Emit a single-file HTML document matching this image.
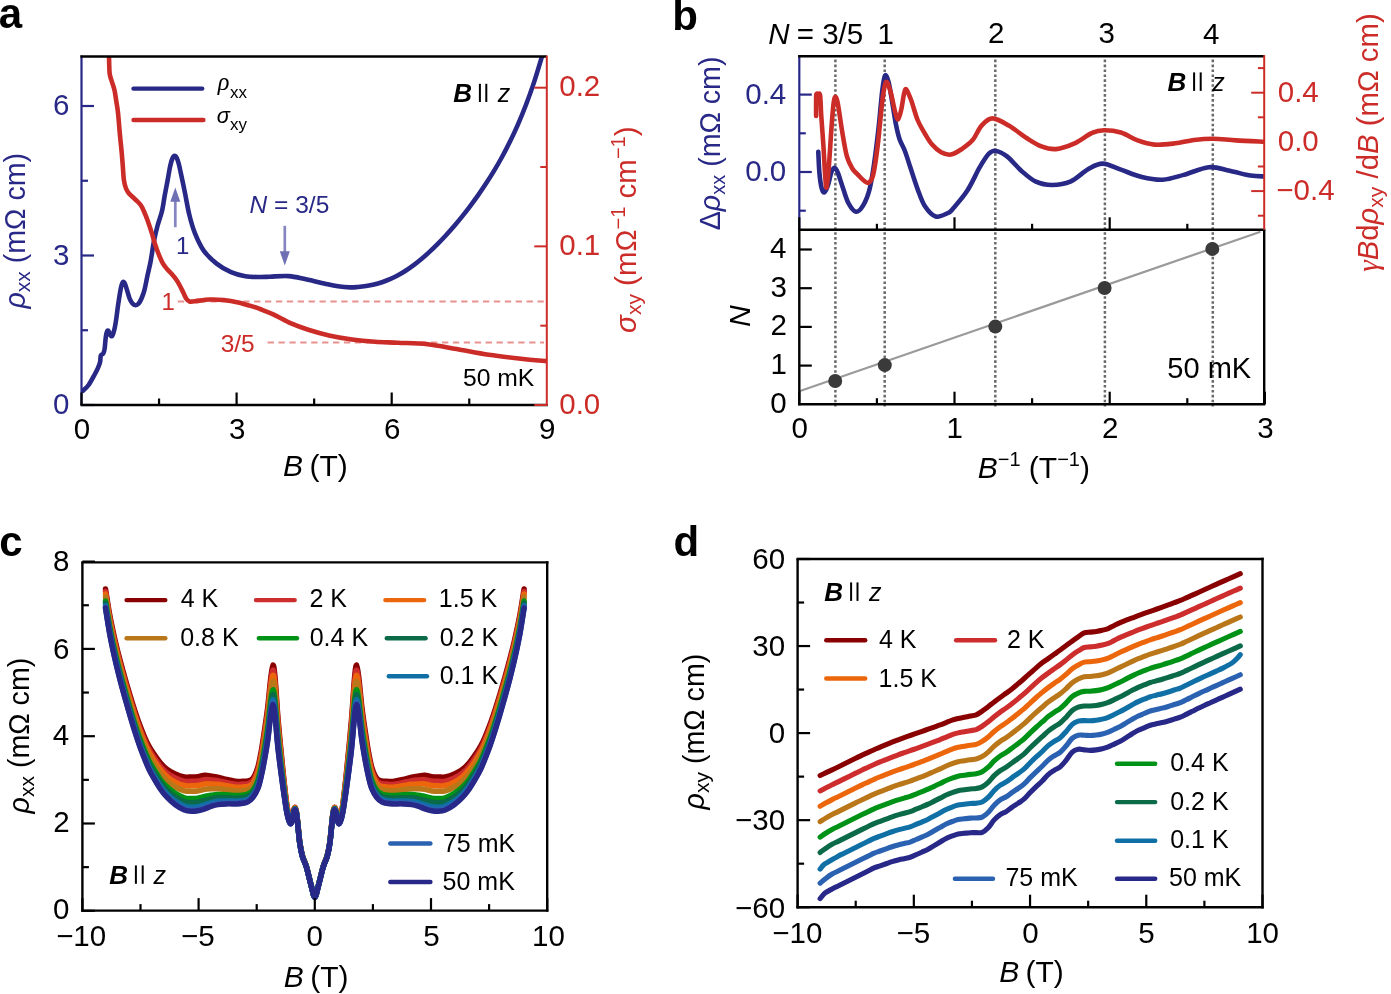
<!DOCTYPE html>
<html><head><meta charset="utf-8"><style>
html,body{margin:0;padding:0;background:#fff;}
svg{display:block;font-family:"Liberation Sans",sans-serif;will-change:transform;}
</style></head><body>
<svg width="1391" height="994" viewBox="0 0 1391 994">
<rect width="1391" height="994" fill="#fff"/>
<text x="-1.23" y="27.70" font-size="42.00" fill="#000" font-weight="bold" font-style="normal" >a</text>
<defs><clipPath id="ca"><rect x="81.5" y="56.5" width="465.3" height="348.5"/></clipPath></defs>
<line x1="177.80" y1="301.50" x2="544.00" y2="301.50" stroke="#e8928f" stroke-width="2.00" stroke-linecap="butt" stroke-dasharray="6.3 4.6"/>
<line x1="267.60" y1="342.60" x2="544.00" y2="342.60" stroke="#e8928f" stroke-width="2.00" stroke-linecap="butt" stroke-dasharray="6.3 4.6"/>
<path d="M82.90,390.80 C83.85,389.83 86.68,387.63 88.60,385.00 C90.52,382.37 92.83,377.87 94.40,375.00 C95.97,372.13 97.05,369.97 98.00,367.80 C98.95,365.63 99.63,364.05 100.10,362.00 C100.57,359.95 100.28,356.90 100.80,355.50 C101.32,354.10 102.57,354.68 103.20,353.60 C103.83,352.52 104.17,351.77 104.60,349.00 C105.03,346.23 105.37,340.00 105.80,337.00 C106.23,334.00 106.70,331.92 107.20,331.00 C107.70,330.08 108.25,330.75 108.80,331.50 C109.35,332.25 109.90,334.83 110.50,335.50 C111.10,336.17 111.72,336.67 112.40,335.50 C113.08,334.33 113.93,331.42 114.60,328.50 C115.27,325.58 115.82,321.92 116.40,318.00 C116.98,314.08 117.33,310.08 118.10,305.00 C118.87,299.92 120.17,291.37 121.00,287.50 C121.83,283.63 122.33,282.13 123.10,281.80 C123.87,281.47 124.52,282.72 125.60,285.50 C126.68,288.28 128.45,295.50 129.60,298.50 C130.75,301.50 131.53,302.38 132.50,303.50 C133.47,304.62 134.40,305.15 135.40,305.20 C136.40,305.25 137.48,304.92 138.50,303.80 C139.52,302.68 140.50,300.83 141.50,298.50 C142.50,296.17 143.48,293.72 144.50,289.80 C145.52,285.88 146.60,279.63 147.60,275.00 C148.60,270.37 149.43,267.67 150.50,262.00 C151.57,256.33 152.82,247.08 154.00,241.00 C155.18,234.92 156.27,230.50 157.60,225.50 C158.93,220.50 160.80,216.08 162.00,211.00 C163.20,205.92 163.88,200.00 164.80,195.00 C165.72,190.00 166.60,185.83 167.50,181.00 C168.40,176.17 169.35,169.83 170.20,166.00 C171.05,162.17 171.87,159.70 172.60,158.00 C173.33,156.30 173.90,155.80 174.60,155.80 C175.30,155.80 176.10,156.63 176.80,158.00 C177.50,159.37 178.17,161.67 178.80,164.00 C179.43,166.33 179.57,167.15 180.60,172.00 C181.63,176.85 183.55,185.98 185.00,193.10 C186.45,200.22 187.63,207.98 189.30,214.70 C190.97,221.42 192.60,227.42 195.00,233.40 C197.40,239.38 200.10,245.57 203.70,250.60 C207.30,255.63 212.05,260.00 216.60,263.60 C221.15,267.20 226.22,270.10 231.00,272.20 C235.78,274.30 240.52,275.40 245.30,276.20 C250.08,277.00 255.58,276.92 259.70,277.00 C263.82,277.08 265.17,276.85 270.00,276.70 C274.83,276.55 282.72,275.67 288.70,276.10 C294.68,276.53 299.43,277.93 305.90,279.30 C312.37,280.67 322.15,283.13 327.50,284.30 C332.85,285.47 334.25,285.78 338.00,286.30 C341.75,286.82 346.67,287.28 350.00,287.40 C353.33,287.52 355.33,287.22 358.00,287.00 C360.67,286.78 363.33,286.50 366.00,286.10 C368.67,285.70 371.33,285.23 374.00,284.60 C376.67,283.97 379.33,283.20 382.00,282.30 C384.67,281.40 387.33,280.37 390.00,279.20 C392.67,278.03 395.33,276.75 398.00,275.30 C400.67,273.85 403.33,272.23 406.00,270.50 C408.67,268.77 411.33,266.90 414.00,264.90 C416.67,262.90 419.33,260.75 422.00,258.50 C424.67,256.25 427.33,253.88 430.00,251.40 C432.67,248.92 435.33,246.30 438.00,243.60 C440.67,240.90 443.33,238.10 446.00,235.20 C448.67,232.30 451.33,229.30 454.00,226.20 C456.67,223.10 459.33,219.92 462.00,216.60 C464.67,213.28 467.33,209.83 470.00,206.30 C472.67,202.77 475.33,199.18 478.00,195.40 C480.67,191.62 483.33,187.68 486.00,183.60 C488.67,179.52 491.33,175.33 494.00,170.90 C496.67,166.47 499.33,161.88 502.00,157.00 C504.67,152.12 507.33,147.03 510.00,141.60 C512.67,136.17 515.33,130.53 518.00,124.40 C520.67,118.27 523.33,111.80 526.00,104.80 C528.67,97.80 531.33,90.47 534.00,82.40 C536.67,74.33 540.47,61.47 542.00,56.40 C543.53,51.33 543.00,52.73 543.20,52.00" fill="none" stroke="#282887" stroke-width="4.60" stroke-linejoin="round" stroke-linecap="round" clip-path="url(#ca)"/>
<path d="M108.40,52.00 C108.50,52.87 108.80,53.70 109.00,57.20 C109.20,60.70 109.20,69.17 109.60,73.00 C110.00,76.83 110.60,77.40 111.40,80.20 C112.20,83.00 113.60,86.38 114.40,89.80 C115.20,93.22 115.60,96.87 116.20,100.70 C116.80,104.53 117.38,107.17 118.00,112.80 C118.62,118.43 119.28,127.87 119.90,134.50 C120.52,141.13 121.22,147.35 121.70,152.60 C122.18,157.85 122.43,161.43 122.80,166.00 C123.17,170.57 123.37,176.25 123.90,180.00 C124.43,183.75 125.15,186.25 126.00,188.50 C126.85,190.75 127.80,192.00 129.00,193.50 C130.20,195.00 131.78,196.17 133.20,197.50 C134.62,198.83 136.20,200.17 137.50,201.50 C138.80,202.83 139.95,203.92 141.00,205.50 C142.05,207.08 142.70,208.50 143.80,211.00 C144.90,213.50 146.25,216.77 147.60,220.50 C148.95,224.23 150.70,229.57 151.90,233.40 C153.10,237.23 153.72,240.15 154.80,243.50 C155.88,246.85 157.08,250.22 158.40,253.50 C159.72,256.78 161.27,260.62 162.70,263.20 C164.13,265.78 165.45,267.15 167.00,269.00 C168.55,270.85 170.50,272.58 172.00,274.30 C173.50,276.02 174.75,277.52 176.00,279.30 C177.25,281.08 178.25,282.72 179.50,285.00 C180.75,287.28 182.33,290.67 183.50,293.00 C184.67,295.33 185.50,297.58 186.50,299.00 C187.50,300.42 188.08,301.13 189.50,301.50 C190.92,301.87 191.68,301.53 195.00,301.20 C198.32,300.87 204.60,299.70 209.40,299.50 C214.20,299.30 219.00,299.52 223.80,300.00 C228.60,300.48 233.42,301.33 238.20,302.40 C242.98,303.47 248.87,305.30 252.50,306.40 C256.13,307.50 256.45,307.63 260.00,309.00 C263.55,310.37 268.62,312.20 273.80,314.60 C278.98,317.00 285.35,320.88 291.10,323.40 C296.85,325.92 301.98,327.70 308.30,329.70 C314.62,331.70 321.72,333.77 329.00,335.40 C336.28,337.03 344.33,338.43 352.00,339.50 C359.67,340.57 367.33,341.27 375.00,341.80 C382.67,342.33 389.23,342.30 398.00,342.70 C406.77,343.10 417.83,343.15 427.60,344.20 C437.37,345.25 446.40,347.25 456.60,349.00 C466.80,350.75 478.07,353.08 488.80,354.70 C499.53,356.32 511.33,357.63 521.00,358.70 C530.67,359.77 542.50,360.70 546.80,361.10" fill="none" stroke="#cc2c28" stroke-width="4.60" stroke-linejoin="round" stroke-linecap="round" clip-path="url(#ca)"/>
<line x1="175.30" y1="227.20" x2="175.30" y2="200.00" stroke="#8585c2" stroke-width="2.70" stroke-linecap="butt" />
<path d="M170.3,201.8 L175.3,187.4 L180.3,201.8 Z" fill="#6f6fb4"/>
<line x1="284.80" y1="225.80" x2="284.80" y2="252.00" stroke="#8585c2" stroke-width="2.70" stroke-linecap="butt" />
<path d="M279.8,251.2 L284.8,265.6 L289.8,251.2 Z" fill="#6f6fb4"/>
<line x1="81.50" y1="55.40" x2="81.50" y2="405.00" stroke="#282887" stroke-width="2.20" stroke-linecap="butt" />
<line x1="81.50" y1="405.00" x2="94.00" y2="405.00" stroke="#282887" stroke-width="2.20" stroke-linecap="butt" />
<line x1="81.50" y1="255.50" x2="94.00" y2="255.50" stroke="#282887" stroke-width="2.20" stroke-linecap="butt" />
<line x1="81.50" y1="106.00" x2="94.00" y2="106.00" stroke="#282887" stroke-width="2.20" stroke-linecap="butt" />
<line x1="81.50" y1="330.25" x2="88.00" y2="330.25" stroke="#282887" stroke-width="2.20" stroke-linecap="butt" />
<line x1="81.50" y1="180.75" x2="88.00" y2="180.75" stroke="#282887" stroke-width="2.20" stroke-linecap="butt" />
<line x1="80.40" y1="56.50" x2="546.80" y2="56.50" stroke="#000" stroke-width="2.40" stroke-linecap="butt" />
<line x1="80.40" y1="405.00" x2="547.80" y2="405.00" stroke="#000" stroke-width="2.40" stroke-linecap="butt" />
<line x1="81.50" y1="405.00" x2="81.50" y2="392.50" stroke="#000" stroke-width="2.20" stroke-linecap="butt" />
<line x1="236.60" y1="405.00" x2="236.60" y2="392.50" stroke="#000" stroke-width="2.20" stroke-linecap="butt" />
<line x1="391.70" y1="405.00" x2="391.70" y2="392.50" stroke="#000" stroke-width="2.20" stroke-linecap="butt" />
<line x1="159.05" y1="405.00" x2="159.05" y2="398.50" stroke="#000" stroke-width="2.20" stroke-linecap="butt" />
<line x1="314.15" y1="405.00" x2="314.15" y2="398.50" stroke="#000" stroke-width="2.20" stroke-linecap="butt" />
<line x1="469.25" y1="405.00" x2="469.25" y2="398.50" stroke="#000" stroke-width="2.20" stroke-linecap="butt" />
<line x1="546.80" y1="55.40" x2="546.80" y2="406.10" stroke="#cc2c28" stroke-width="2.00" stroke-linecap="butt" />
<line x1="546.80" y1="405.00" x2="534.30" y2="405.00" stroke="#cc2c28" stroke-width="2.00" stroke-linecap="butt" />
<line x1="546.80" y1="246.35" x2="534.30" y2="246.35" stroke="#cc2c28" stroke-width="2.00" stroke-linecap="butt" />
<line x1="546.80" y1="87.70" x2="534.30" y2="87.70" stroke="#cc2c28" stroke-width="2.00" stroke-linecap="butt" />
<line x1="546.80" y1="325.68" x2="540.30" y2="325.68" stroke="#cc2c28" stroke-width="2.00" stroke-linecap="butt" />
<line x1="546.80" y1="167.03" x2="540.30" y2="167.03" stroke="#cc2c28" stroke-width="2.00" stroke-linecap="butt" />
<text x="52.95" y="414.30" font-size="29.50" fill="#282887" font-weight="normal" font-style="normal" >0</text>
<text x="53.09" y="264.80" font-size="29.50" fill="#282887" font-weight="normal" font-style="normal" >3</text>
<text x="53.09" y="115.30" font-size="29.50" fill="#282887" font-weight="normal" font-style="normal" >6</text>
<text x="559.25" y="413.70" font-size="29.50" fill="#cc2c28" font-weight="normal" font-style="normal" >0.0</text>
<text x="559.25" y="255.05" font-size="29.50" fill="#cc2c28" font-weight="normal" font-style="normal" >0.1</text>
<text x="559.25" y="96.40" font-size="29.50" fill="#cc2c28" font-weight="normal" font-style="normal" >0.2</text>
<text x="73.80" y="439.20" font-size="29.50" fill="#000" font-weight="normal" font-style="normal" >0</text>
<text x="228.98" y="439.20" font-size="29.50" fill="#000" font-weight="normal" font-style="normal" >3</text>
<text x="383.90" y="439.20" font-size="29.50" fill="#000" font-weight="normal" font-style="normal" >6</text>
<text x="539.10" y="439.20" font-size="29.50" fill="#000" font-weight="normal" font-style="normal" >9</text>
<text x="283.10" y="475.90" font-size="30.00" fill="#000" ><tspan font-style="italic">B</tspan><tspan dx="-2"> (T)</tspan></text>
<text transform="translate(24.5,308.6) rotate(-90)" font-size="28.6" fill="#282887"><tspan font-style="italic">ρ</tspan><tspan font-size="21" dy="5">xx</tspan><tspan dy="-5"> (mΩ cm)</tspan></text>
<text transform="translate(636.2,332.9) rotate(-90)" font-size="29.5" fill="#cc2c28"><tspan font-style="italic">σ</tspan><tspan font-size="21" dy="5">xy</tspan><tspan dy="-5"> (mΩ</tspan><tspan font-size="20" dy="-11">−1</tspan><tspan dy="11"> cm</tspan><tspan font-size="20" dy="-11">−1</tspan><tspan dy="11">)</tspan></text>
<line x1="133.50" y1="88.60" x2="202.20" y2="88.60" stroke="#282887" stroke-width="4.40" stroke-linecap="round" />
<line x1="133.50" y1="120.00" x2="203.40" y2="120.00" stroke="#cc2c28" stroke-width="4.40" stroke-linecap="round" />
<text x="217.72" y="90.40" font-size="24.30" fill="#000" ><tspan font-family="Liberation Serif" font-style="italic">ρ</tspan></text>
<text x="230.10" y="98.30" font-size="17.00" fill="#000" >xx</text>
<text x="216.80" y="122.60" font-size="21.70" fill="#000" ><tspan font-style="italic">σ</tspan></text>
<text x="230.10" y="130.40" font-size="17.00" fill="#000" >xy</text>
<text x="175.97" y="254.20" font-size="24.00" fill="#282887" font-weight="normal" font-style="normal" >1</text>
<text x="249.60" y="212.80" font-size="24.50" fill="#282887" ><tspan font-style="italic">N</tspan> = 3/5</text>
<text x="161.57" y="310.30" font-size="24.00" fill="#cc2c28" font-weight="normal" font-style="normal" >1</text>
<text x="220.67" y="352.00" font-size="24.50" fill="#cc2c28" font-weight="normal" font-style="normal" >3/5</text>
<text x="462.91" y="386.10" font-size="24.70" fill="#000" font-weight="normal" font-style="normal" >50 mK</text>
<text x="453.14" y="102.00" font-size="26.00" fill="#000" font-weight="bold" font-style="italic" >B</text>
<line x1="479.90" y1="83.80" x2="479.90" y2="102.00" stroke="#000" stroke-width="2.00" stroke-linecap="butt" />
<line x1="486.30" y1="83.80" x2="486.30" y2="102.00" stroke="#000" stroke-width="2.00" stroke-linecap="butt" />
<text x="497.75" y="102.00" font-size="25.00" fill="#000" font-weight="normal" font-style="italic" >z</text>
<text x="672.23" y="29.50" font-size="42.00" fill="#000" font-weight="bold" font-style="normal" >b</text>
<defs><clipPath id="cb"><rect x="799.3" y="56.2" width="464.9" height="173.6"/></clipPath></defs>
<line x1="835.40" y1="58.50" x2="835.40" y2="406.50" stroke="#6a6a6a" stroke-width="2.50" stroke-linecap="butt" stroke-dasharray="2.6 2.33" stroke-dashoffset="-1.1"/>
<line x1="884.70" y1="58.50" x2="884.70" y2="406.50" stroke="#6a6a6a" stroke-width="2.50" stroke-linecap="butt" stroke-dasharray="2.6 2.33" stroke-dashoffset="-1.1"/>
<line x1="995.30" y1="58.50" x2="995.30" y2="406.50" stroke="#6a6a6a" stroke-width="2.50" stroke-linecap="butt" stroke-dasharray="2.6 2.33" stroke-dashoffset="-1.1"/>
<line x1="1104.90" y1="58.50" x2="1104.90" y2="406.50" stroke="#6a6a6a" stroke-width="2.50" stroke-linecap="butt" stroke-dasharray="2.6 2.33" stroke-dashoffset="-1.1"/>
<line x1="1212.80" y1="58.50" x2="1212.80" y2="406.50" stroke="#6a6a6a" stroke-width="2.50" stroke-linecap="butt" stroke-dasharray="2.6 2.33" stroke-dashoffset="-1.1"/>
<path d="M818.30,151.90 C818.48,155.38 818.85,166.78 819.40,172.80 C819.95,178.82 820.78,184.75 821.60,188.00 C822.42,191.25 823.25,192.73 824.30,192.30 C825.35,191.87 826.70,188.78 827.90,185.40 C829.10,182.02 830.38,174.93 831.50,172.00 C832.62,169.07 833.53,167.67 834.60,167.80 C835.67,167.93 836.45,169.25 837.90,172.80 C839.35,176.35 841.50,183.97 843.30,189.10 C845.10,194.23 846.58,199.83 848.70,203.60 C850.82,207.37 853.58,211.40 856.00,211.70 C858.42,212.00 860.93,209.17 863.20,205.40 C865.47,201.63 867.78,196.05 869.60,189.10 C871.42,182.15 872.60,173.97 874.10,163.70 C875.60,153.43 877.25,139.58 878.60,127.50 C879.95,115.42 881.13,99.87 882.20,91.20 C883.27,82.53 883.93,77.00 885.00,75.50 C886.07,74.00 887.40,77.77 888.60,82.20 C889.80,86.63 891.00,95.17 892.20,102.10 C893.40,109.03 894.58,117.65 895.80,123.80 C897.02,129.95 897.98,134.47 899.50,139.00 C901.02,143.53 903.10,146.28 904.90,151.00 C906.70,155.72 908.18,160.95 910.30,167.30 C912.42,173.65 915.18,182.65 917.60,189.10 C920.02,195.55 921.78,201.43 924.80,206.00 C927.82,210.57 931.83,215.33 935.70,216.50 C939.57,217.67 945.17,214.27 948.00,213.00 C950.83,211.73 949.50,212.60 952.70,208.90 C955.90,205.20 962.68,197.75 967.20,190.80 C971.72,183.85 976.18,173.38 979.80,167.20 C983.42,161.02 986.18,156.42 988.90,153.70 C991.62,150.98 993.08,150.45 996.10,150.90 C999.12,151.35 1002.77,153.07 1007.00,156.40 C1011.23,159.73 1016.68,166.68 1021.50,170.90 C1026.32,175.12 1030.78,179.35 1035.90,181.70 C1041.02,184.05 1046.47,185.00 1052.20,185.00 C1057.93,185.00 1064.27,184.37 1070.30,181.70 C1076.33,179.03 1082.97,172.02 1088.40,169.00 C1093.83,165.98 1097.48,163.48 1102.90,163.60 C1108.32,163.72 1114.42,167.47 1120.90,169.70 C1127.38,171.93 1134.82,175.33 1141.80,177.00 C1148.78,178.67 1155.82,180.05 1162.80,179.70 C1169.78,179.35 1176.03,176.98 1183.70,174.90 C1191.37,172.82 1201.13,167.88 1208.80,167.20 C1216.47,166.52 1222.73,169.40 1229.70,170.80 C1236.67,172.20 1244.85,174.67 1250.60,175.60 C1256.35,176.53 1261.93,176.27 1264.20,176.40" fill="none" stroke="#282887" stroke-width="4.60" stroke-linejoin="round" stroke-linecap="round" clip-path="url(#cb)"/>
<path d="M816.10,116.00 C816.10,114.00 816.07,107.58 816.10,104.00 C816.13,100.42 815.98,96.20 816.30,94.50 C816.62,92.80 817.40,93.80 818.00,93.80 C818.60,93.80 819.47,93.13 819.90,94.50 C820.33,95.87 820.38,98.62 820.60,102.00 C820.82,105.38 820.73,107.53 821.20,114.80 C821.67,122.07 822.73,135.40 823.40,145.60 C824.07,155.80 824.67,169.02 825.20,176.00 C825.73,182.98 826.00,188.95 826.60,187.50 C827.20,186.05 827.98,177.30 828.80,167.30 C829.62,157.30 830.72,138.05 831.50,127.50 C832.28,116.95 832.90,109.08 833.50,104.00 C834.10,98.92 834.52,97.67 835.10,97.00 C835.68,96.33 836.38,97.95 837.00,100.00 C837.62,102.05 837.90,103.82 838.80,109.30 C839.70,114.78 841.05,125.05 842.40,132.90 C843.75,140.75 845.25,150.47 846.90,156.40 C848.55,162.33 850.48,165.47 852.30,168.50 C854.12,171.53 855.98,172.68 857.80,174.60 C859.62,176.52 861.38,178.65 863.20,180.00 C865.02,181.35 867.03,183.60 868.70,182.70 C870.37,181.80 871.70,180.78 873.20,174.60 C874.70,168.42 876.20,157.68 877.70,145.60 C879.20,133.52 880.83,112.67 882.20,102.10 C883.57,91.53 884.53,84.02 885.90,82.20 C887.27,80.38 888.90,86.40 890.40,91.20 C891.90,96.00 893.63,106.28 894.90,111.00 C896.17,115.72 896.93,119.78 898.00,119.50 C899.07,119.22 900.30,113.55 901.30,109.30 C902.30,105.05 903.17,97.32 904.00,94.00 C904.83,90.68 905.10,88.35 906.30,89.40 C907.50,90.45 909.32,95.20 911.20,100.30 C913.08,105.40 915.33,114.47 917.60,120.00 C919.87,125.53 922.38,129.40 924.80,133.50 C927.22,137.60 929.38,141.47 932.10,144.60 C934.82,147.73 937.97,150.63 941.10,152.30 C944.23,153.97 947.47,155.13 950.90,154.60 C954.33,154.07 958.08,151.52 961.70,149.10 C965.32,146.68 969.28,144.02 972.60,140.10 C975.92,136.18 978.28,129.22 981.60,125.60 C984.92,121.98 987.97,118.40 992.50,118.40 C997.03,118.40 1003.07,122.28 1008.80,125.60 C1014.53,128.92 1021.47,134.83 1026.90,138.30 C1032.33,141.77 1036.57,144.60 1041.40,146.40 C1046.23,148.20 1050.47,149.55 1055.90,149.10 C1061.33,148.65 1067.97,146.42 1074.00,143.70 C1080.03,140.98 1087.10,135.05 1092.10,132.80 C1097.10,130.55 1099.20,130.25 1104.00,130.20 C1108.80,130.15 1115.28,130.80 1120.90,132.50 C1126.52,134.20 1132.12,138.38 1137.70,140.40 C1143.28,142.42 1148.48,144.07 1154.40,144.60 C1160.32,145.13 1166.58,144.37 1173.20,143.60 C1179.82,142.83 1187.47,140.82 1194.10,140.00 C1200.73,139.18 1206.02,138.63 1213.00,138.70 C1219.98,138.77 1227.47,139.88 1236.00,140.40 C1244.53,140.92 1259.50,141.57 1264.20,141.80" fill="none" stroke="#cc2c28" stroke-width="4.60" stroke-linejoin="round" stroke-linecap="round" clip-path="url(#cb)"/>
<line x1="799.30" y1="391.20" x2="1260.50" y2="231.72" stroke="#9a9a9a" stroke-width="2.20" stroke-linecap="butt" />
<circle cx="835.2" cy="381.0" r="7" fill="#3a3a3a"/>
<circle cx="884.8" cy="365.1" r="7" fill="#3a3a3a"/>
<circle cx="995.3" cy="326.6" r="7" fill="#3a3a3a"/>
<circle cx="1104.6" cy="288.0" r="7" fill="#3a3a3a"/>
<circle cx="1212.3" cy="248.9" r="7" fill="#3a3a3a"/>
<line x1="799.30" y1="55.10" x2="799.30" y2="229.80" stroke="#282887" stroke-width="2.20" stroke-linecap="butt" />
<line x1="799.30" y1="229.80" x2="799.30" y2="405.30" stroke="#000" stroke-width="2.40" stroke-linecap="butt" />
<line x1="798.20" y1="56.20" x2="1264.20" y2="56.20" stroke="#000" stroke-width="2.40" stroke-linecap="butt" />
<line x1="798.20" y1="229.80" x2="1265.30" y2="229.80" stroke="#000" stroke-width="2.40" stroke-linecap="butt" />
<line x1="798.20" y1="404.20" x2="1265.30" y2="404.20" stroke="#000" stroke-width="2.40" stroke-linecap="butt" />
<line x1="1264.20" y1="229.80" x2="1264.20" y2="404.20" stroke="#000" stroke-width="2.40" stroke-linecap="butt" />
<line x1="799.30" y1="94.60" x2="811.80" y2="94.60" stroke="#282887" stroke-width="2.20" stroke-linecap="butt" />
<line x1="799.30" y1="172.00" x2="811.80" y2="172.00" stroke="#282887" stroke-width="2.20" stroke-linecap="butt" />
<line x1="799.30" y1="133.30" x2="805.80" y2="133.30" stroke="#282887" stroke-width="2.20" stroke-linecap="butt" />
<line x1="799.30" y1="210.70" x2="805.80" y2="210.70" stroke="#282887" stroke-width="2.20" stroke-linecap="butt" />
<line x1="799.30" y1="229.80" x2="799.30" y2="217.30" stroke="#000" stroke-width="2.20" stroke-linecap="butt" />
<line x1="799.30" y1="404.20" x2="799.30" y2="391.70" stroke="#000" stroke-width="2.20" stroke-linecap="butt" />
<line x1="954.50" y1="229.80" x2="954.50" y2="217.30" stroke="#000" stroke-width="2.20" stroke-linecap="butt" />
<line x1="954.50" y1="404.20" x2="954.50" y2="391.70" stroke="#000" stroke-width="2.20" stroke-linecap="butt" />
<line x1="1109.70" y1="229.80" x2="1109.70" y2="217.30" stroke="#000" stroke-width="2.20" stroke-linecap="butt" />
<line x1="1109.70" y1="404.20" x2="1109.70" y2="391.70" stroke="#000" stroke-width="2.20" stroke-linecap="butt" />
<line x1="1264.90" y1="404.20" x2="1264.90" y2="391.70" stroke="#000" stroke-width="2.20" stroke-linecap="butt" />
<line x1="876.90" y1="229.80" x2="876.90" y2="223.80" stroke="#000" stroke-width="2.20" stroke-linecap="butt" />
<line x1="876.90" y1="404.20" x2="876.90" y2="398.20" stroke="#000" stroke-width="2.20" stroke-linecap="butt" />
<line x1="1032.10" y1="229.80" x2="1032.10" y2="223.80" stroke="#000" stroke-width="2.20" stroke-linecap="butt" />
<line x1="1032.10" y1="404.20" x2="1032.10" y2="398.20" stroke="#000" stroke-width="2.20" stroke-linecap="butt" />
<line x1="1187.30" y1="229.80" x2="1187.30" y2="223.80" stroke="#000" stroke-width="2.20" stroke-linecap="butt" />
<line x1="1187.30" y1="404.20" x2="1187.30" y2="398.20" stroke="#000" stroke-width="2.20" stroke-linecap="butt" />
<line x1="799.30" y1="365.60" x2="811.80" y2="365.60" stroke="#000" stroke-width="2.20" stroke-linecap="butt" />
<line x1="799.30" y1="326.90" x2="811.80" y2="326.90" stroke="#000" stroke-width="2.20" stroke-linecap="butt" />
<line x1="799.30" y1="288.20" x2="811.80" y2="288.20" stroke="#000" stroke-width="2.20" stroke-linecap="butt" />
<line x1="799.30" y1="249.50" x2="811.80" y2="249.50" stroke="#000" stroke-width="2.20" stroke-linecap="butt" />
<line x1="1264.20" y1="55.10" x2="1264.20" y2="229.80" stroke="#cc2c28" stroke-width="2.00" stroke-linecap="butt" />
<line x1="1264.20" y1="92.70" x2="1251.20" y2="92.70" stroke="#cc2c28" stroke-width="2.00" stroke-linecap="butt" />
<line x1="1264.20" y1="141.90" x2="1251.20" y2="141.90" stroke="#cc2c28" stroke-width="2.00" stroke-linecap="butt" />
<line x1="1264.20" y1="191.10" x2="1251.20" y2="191.10" stroke="#cc2c28" stroke-width="2.00" stroke-linecap="butt" />
<line x1="1264.20" y1="68.10" x2="1257.90" y2="68.10" stroke="#cc2c28" stroke-width="2.00" stroke-linecap="butt" />
<line x1="1264.20" y1="117.30" x2="1257.90" y2="117.30" stroke="#cc2c28" stroke-width="2.00" stroke-linecap="butt" />
<line x1="1264.20" y1="166.50" x2="1257.90" y2="166.50" stroke="#cc2c28" stroke-width="2.00" stroke-linecap="butt" />
<line x1="1264.20" y1="215.70" x2="1257.90" y2="215.70" stroke="#cc2c28" stroke-width="2.00" stroke-linecap="butt" />
<text x="745.25" y="103.80" font-size="29.50" fill="#282887" font-weight="normal" font-style="normal" >0.4</text>
<text x="745.25" y="180.60" font-size="29.50" fill="#282887" font-weight="normal" font-style="normal" >0.0</text>
<text x="1277.75" y="101.70" font-size="29.50" fill="#cc2c28" font-weight="normal" font-style="normal" >0.4</text>
<text x="1277.75" y="150.90" font-size="29.50" fill="#cc2c28" font-weight="normal" font-style="normal" >0.0</text>
<text x="1276.35" y="199.70" font-size="29.50" fill="#cc2c28" font-weight="normal" font-style="normal" >−0.4</text>
<text x="770.25" y="412.80" font-size="29.50" fill="#000" font-weight="normal" font-style="normal" >0</text>
<text x="770.53" y="374.10" font-size="29.50" fill="#000" font-weight="normal" font-style="normal" >1</text>
<text x="770.58" y="335.40" font-size="29.50" fill="#000" font-weight="normal" font-style="normal" >2</text>
<text x="770.39" y="296.70" font-size="29.50" fill="#000" font-weight="normal" font-style="normal" >3</text>
<text x="769.96" y="258.00" font-size="29.50" fill="#000" font-weight="normal" font-style="normal" >4</text>
<text x="791.60" y="438.20" font-size="29.50" fill="#000" font-weight="normal" font-style="normal" >0</text>
<text x="946.39" y="438.20" font-size="29.50" fill="#000" font-weight="normal" font-style="normal" >1</text>
<text x="1102.00" y="438.20" font-size="29.50" fill="#000" font-weight="normal" font-style="normal" >2</text>
<text x="1257.28" y="438.20" font-size="29.50" fill="#000" font-weight="normal" font-style="normal" >3</text>
<text x="768.25" y="43.70" font-size="29.50" fill="#000" ><tspan font-style="italic">N</tspan><tspan dx="-1"> = 3/5</tspan></text>
<text x="877.45" y="43.50" font-size="29.50" fill="#000" font-weight="normal" font-style="normal" >1</text>
<text x="988.00" y="42.80" font-size="29.50" fill="#000" font-weight="normal" font-style="normal" >2</text>
<text x="1098.38" y="42.80" font-size="29.50" fill="#000" font-weight="normal" font-style="normal" >3</text>
<text x="1203.09" y="43.50" font-size="29.50" fill="#000" font-weight="normal" font-style="normal" >4</text>
<text x="1167.54" y="90.90" font-size="26.00" fill="#000" font-weight="bold" font-style="italic" >B</text>
<line x1="1194.10" y1="72.40" x2="1194.10" y2="90.90" stroke="#000" stroke-width="2.00" stroke-linecap="butt" />
<line x1="1200.70" y1="72.40" x2="1200.70" y2="90.90" stroke="#000" stroke-width="2.00" stroke-linecap="butt" />
<text x="1212.15" y="90.90" font-size="25.00" fill="#000" font-weight="normal" font-style="italic" >z</text>
<text x="1167.34" y="377.90" font-size="29.00" fill="#000" font-weight="normal" font-style="normal" >50 mK</text>
<text x="977.70" y="478.20" font-size="30.00" fill="#000" ><tspan font-style="italic">B</tspan><tspan font-size="20" dy="-12.5">−1</tspan><tspan dy="12.5"> (T</tspan><tspan font-size="20" dy="-12.5">−1</tspan><tspan dy="12.5">)</tspan></text>
<text transform="translate(749.6,326.9) rotate(-90)" font-size="30" fill="#000" font-style="italic">N</text>
<text transform="translate(719.9,230.3) rotate(-90)" font-size="28.6" fill="#282887">Δ<tspan font-style="italic">ρ</tspan><tspan font-size="20" dy="5">xx</tspan><tspan dy="-5"> (mΩ cm)</tspan></text>
<text transform="translate(1377.8,271.8) rotate(-90)" font-size="29.3" fill="#cc2c28"><tspan font-family="Liberation Serif" font-style="italic">γ</tspan><tspan font-style="italic">B</tspan><tspan>d</tspan><tspan font-style="italic">ρ</tspan><tspan font-size="21" dy="5">xy</tspan><tspan dy="-5"> /d</tspan><tspan font-style="italic">B</tspan> (mΩ cm)</text>
<text x="-0.74" y="556.10" font-size="42.00" fill="#000" font-weight="bold" font-style="normal" >c</text>
<defs><clipPath id="cc"><rect x="82.4" y="562.4" width="464.8" height="348.2"/></clipPath></defs>
<path d="M105.50,589.00 C106.22,593.38 108.25,606.94 109.80,615.28 C111.35,623.61 113.13,631.69 114.80,639.02 C116.47,646.35 118.13,652.85 119.80,659.26 C121.47,665.67 123.13,671.63 124.80,677.50 C126.47,683.37 128.13,689.00 129.80,694.50 C131.47,700.00 133.13,705.42 134.80,710.50 C136.47,715.58 138.13,720.50 139.80,725.00 C141.47,729.50 143.30,734.02 144.80,737.50 C146.30,740.98 147.38,743.28 148.80,745.89 C150.22,748.50 151.38,750.34 153.30,753.15 C155.22,755.96 158.03,760.07 160.30,762.75 C162.57,765.43 164.40,767.33 166.90,769.22 C169.40,771.11 172.40,772.83 175.30,774.11 C178.20,775.40 181.63,776.48 184.30,776.94 C186.97,777.41 189.05,776.94 191.30,776.90 C193.55,776.85 195.55,776.93 197.80,776.66 C200.05,776.40 202.63,775.41 204.80,775.30 C206.97,775.19 208.63,775.69 210.80,776.00 C212.97,776.31 215.13,776.58 217.80,777.15 C220.47,777.72 223.63,778.67 226.80,779.40 C229.97,780.12 234.13,781.20 236.80,781.50 C239.47,781.80 240.97,781.30 242.80,781.20 C244.63,781.10 246.13,781.38 247.80,780.92 C249.47,780.47 251.13,780.77 252.80,778.50 C254.47,776.23 256.38,771.94 257.80,767.30 C259.22,762.66 260.18,756.83 261.30,750.67 C262.42,744.50 263.42,737.66 264.50,730.30 C265.58,722.94 266.78,715.01 267.80,706.50 C268.82,697.99 269.75,686.15 270.60,679.23 C271.45,672.32 272.17,665.41 272.90,665.02 C273.63,664.64 274.13,667.88 275.00,676.95 C275.87,686.03 276.80,704.13 278.10,719.48 C279.40,734.82 281.37,754.95 282.80,769.00 C284.23,783.05 285.62,795.75 286.70,803.77 C287.78,811.80 288.53,814.40 289.30,817.12 C290.07,819.85 290.60,821.20 291.30,820.10 C292.00,819.00 292.85,812.66 293.50,810.54 C294.15,808.42 294.70,807.12 295.20,807.38 C295.70,807.64 296.07,809.45 296.50,812.10 C296.93,814.75 297.25,818.27 297.80,823.29 C298.35,828.30 299.03,836.80 299.80,842.17 C300.57,847.55 301.30,851.50 302.40,855.54 C303.50,859.58 304.95,861.48 306.40,866.40 C307.85,871.32 309.70,879.96 311.10,885.09 C312.50,890.23 313.57,897.20 314.80,897.20 C316.03,897.20 317.10,890.23 318.50,885.09 C319.90,879.96 321.75,871.32 323.20,866.40 C324.65,861.48 326.10,859.58 327.20,855.54 C328.30,851.50 329.03,847.55 329.80,842.17 C330.57,836.80 331.25,828.30 331.80,823.29 C332.35,818.27 332.67,814.75 333.10,812.10 C333.53,809.45 333.90,807.64 334.40,807.38 C334.90,807.12 335.45,808.42 336.10,810.54 C336.75,812.66 337.60,819.00 338.30,820.10 C339.00,821.20 339.53,819.85 340.30,817.12 C341.07,814.40 341.82,811.80 342.90,803.77 C343.98,795.75 345.37,783.05 346.80,769.00 C348.23,754.95 350.20,734.82 351.50,719.48 C352.80,704.13 353.73,686.03 354.60,676.95 C355.47,667.88 355.97,664.64 356.70,665.02 C357.43,665.41 358.15,672.32 359.00,679.23 C359.85,686.15 360.78,697.99 361.80,706.50 C362.82,715.01 364.02,722.94 365.10,730.30 C366.18,737.66 367.18,744.50 368.30,750.67 C369.42,756.83 370.38,762.66 371.80,767.30 C373.22,771.94 375.13,776.23 376.80,778.50 C378.47,780.77 380.13,780.47 381.80,780.92 C383.47,781.38 384.97,781.10 386.80,781.20 C388.63,781.30 390.13,781.80 392.80,781.50 C395.47,781.20 399.63,780.12 402.80,779.40 C405.97,778.67 409.13,777.72 411.80,777.15 C414.47,776.58 416.63,776.31 418.80,776.00 C420.97,775.69 422.63,775.19 424.80,775.30 C426.97,775.41 429.55,776.40 431.80,776.66 C434.05,776.93 436.05,776.85 438.30,776.90 C440.55,776.94 442.63,777.41 445.30,776.94 C447.97,776.48 451.40,775.40 454.30,774.11 C457.20,772.83 460.20,771.11 462.70,769.22 C465.20,767.33 467.03,765.43 469.30,762.75 C471.57,760.07 474.38,755.96 476.30,753.15 C478.22,750.34 479.38,748.50 480.80,745.89 C482.22,743.28 483.30,740.98 484.80,737.50 C486.30,734.02 488.13,729.50 489.80,725.00 C491.47,720.50 493.13,715.58 494.80,710.50 C496.47,705.42 498.13,700.00 499.80,694.50 C501.47,689.00 503.13,683.37 504.80,677.50 C506.47,671.63 508.13,665.67 509.80,659.26 C511.47,652.85 513.13,646.35 514.80,639.02 C516.47,631.69 518.25,623.61 519.80,615.28 C521.35,606.94 523.38,593.38 524.10,589.00" fill="none" stroke="#880000" stroke-width="5.50" stroke-linejoin="round" stroke-linecap="round" clip-path="url(#cc)"/>
<path d="M105.50,591.47 C106.22,595.85 108.25,609.43 109.80,617.78 C111.35,626.12 113.13,634.21 114.80,641.55 C116.47,648.89 118.13,655.40 119.80,661.83 C121.47,668.25 123.13,674.21 124.80,680.10 C126.47,685.99 128.13,691.64 129.80,697.16 C131.47,702.69 133.13,708.12 134.80,713.23 C136.47,718.34 138.13,723.27 139.80,727.79 C141.47,732.32 143.30,736.84 144.80,740.36 C146.30,743.88 147.38,746.24 148.80,748.90 C150.22,751.55 151.38,753.44 153.30,756.31 C155.22,759.19 158.03,763.40 160.30,766.16 C162.57,768.92 164.40,770.87 166.90,772.86 C169.40,774.85 172.40,776.70 175.30,778.10 C178.20,779.50 181.63,780.70 184.30,781.24 C186.97,781.78 189.05,781.39 191.30,781.37 C193.55,781.34 195.55,781.37 197.80,781.09 C200.05,780.80 202.63,779.84 204.80,779.65 C206.97,779.47 208.63,779.79 210.80,779.97 C212.97,780.14 215.13,780.28 217.80,780.72 C220.47,781.16 223.63,781.97 226.80,782.58 C229.97,783.20 234.13,784.16 236.80,784.41 C239.47,784.66 240.97,784.20 242.80,784.07 C244.63,783.94 246.13,784.16 247.80,783.64 C249.47,783.12 251.13,783.23 252.80,780.97 C254.47,778.71 256.38,774.60 257.80,770.09 C259.22,765.59 260.18,759.95 261.30,753.96 C262.42,747.97 263.42,741.33 264.50,734.15 C265.58,726.96 266.78,719.21 267.80,710.86 C268.82,702.50 269.75,690.80 270.60,684.01 C271.45,677.23 272.17,670.50 272.90,670.16 C273.63,669.81 274.13,673.08 275.00,681.95 C275.87,690.82 276.80,708.49 278.10,723.37 C279.40,738.24 281.37,757.63 282.80,771.21 C284.23,784.79 285.62,797.09 286.70,804.84 C287.78,812.60 288.53,815.15 289.30,817.76 C290.07,820.36 290.60,821.63 291.30,820.48 C292.00,819.33 292.85,813.00 293.50,810.86 C294.15,808.72 294.70,807.41 295.20,807.66 C295.70,807.90 296.07,809.70 296.50,812.35 C296.93,814.99 297.25,818.51 297.80,823.51 C298.35,828.51 299.03,837.00 299.80,842.36 C300.57,847.72 301.30,851.66 302.40,855.68 C303.50,859.70 304.95,861.58 306.40,866.49 C307.85,871.40 309.70,880.01 311.10,885.13 C312.50,890.25 313.57,897.20 314.80,897.20 C316.03,897.20 317.10,890.25 318.50,885.13 C319.90,880.01 321.75,871.40 323.20,866.49 C324.65,861.58 326.10,859.70 327.20,855.68 C328.30,851.66 329.03,847.72 329.80,842.36 C330.57,837.00 331.25,828.51 331.80,823.51 C332.35,818.51 332.67,814.99 333.10,812.35 C333.53,809.70 333.90,807.90 334.40,807.66 C334.90,807.41 335.45,808.72 336.10,810.86 C336.75,813.00 337.60,819.33 338.30,820.48 C339.00,821.63 339.53,820.36 340.30,817.76 C341.07,815.15 341.82,812.60 342.90,804.84 C343.98,797.09 345.37,784.79 346.80,771.21 C348.23,757.63 350.20,738.24 351.50,723.37 C352.80,708.49 353.73,690.82 354.60,681.95 C355.47,673.08 355.97,669.81 356.70,670.16 C357.43,670.50 358.15,677.23 359.00,684.01 C359.85,690.80 360.78,702.50 361.80,710.86 C362.82,719.21 364.02,726.96 365.10,734.15 C366.18,741.33 367.18,747.97 368.30,753.96 C369.42,759.95 370.38,765.59 371.80,770.09 C373.22,774.60 375.13,778.71 376.80,780.97 C378.47,783.23 380.13,783.12 381.80,783.64 C383.47,784.16 384.97,783.94 386.80,784.07 C388.63,784.20 390.13,784.66 392.80,784.41 C395.47,784.16 399.63,783.20 402.80,782.58 C405.97,781.97 409.13,781.16 411.80,780.72 C414.47,780.28 416.63,780.14 418.80,779.97 C420.97,779.79 422.63,779.47 424.80,779.65 C426.97,779.84 429.55,780.80 431.80,781.09 C434.05,781.37 436.05,781.34 438.30,781.37 C440.55,781.39 442.63,781.78 445.30,781.24 C447.97,780.70 451.40,779.50 454.30,778.10 C457.20,776.70 460.20,774.85 462.70,772.86 C465.20,770.87 467.03,768.92 469.30,766.16 C471.57,763.40 474.38,759.19 476.30,756.31 C478.22,753.44 479.38,751.55 480.80,748.90 C482.22,746.24 483.30,743.88 484.80,740.36 C486.30,736.84 488.13,732.32 489.80,727.79 C491.47,723.27 493.13,718.34 494.80,713.23 C496.47,708.12 498.13,702.69 499.80,697.16 C501.47,691.64 503.13,685.99 504.80,680.10 C506.47,674.21 508.13,668.25 509.80,661.83 C511.47,655.40 513.13,648.89 514.80,641.55 C516.47,634.21 518.25,626.12 519.80,617.78 C521.35,609.43 523.38,595.85 524.10,591.47" fill="none" stroke="#cd2d2d" stroke-width="5.50" stroke-linejoin="round" stroke-linecap="round" clip-path="url(#cc)"/>
<path d="M105.50,593.94 C106.22,598.33 108.25,611.92 109.80,620.28 C111.35,628.63 113.13,636.73 114.80,644.08 C116.47,651.44 118.13,657.96 119.80,664.39 C121.47,670.83 123.13,676.79 124.80,682.70 C126.47,688.61 128.13,694.29 129.80,699.83 C131.47,705.37 133.13,710.83 134.80,715.96 C136.47,721.09 138.13,726.05 139.80,730.59 C141.47,735.13 143.30,739.67 144.80,743.22 C146.30,746.77 147.38,749.19 148.80,751.90 C150.22,754.61 151.38,756.53 153.30,759.48 C155.22,762.42 158.03,766.74 160.30,769.57 C162.57,772.41 164.40,774.41 166.90,776.49 C169.40,778.58 172.40,780.58 175.30,782.09 C178.20,783.60 181.63,784.91 184.30,785.54 C186.97,786.16 189.05,785.85 191.30,785.84 C193.55,785.84 195.55,785.82 197.80,785.51 C200.05,785.21 202.63,784.27 204.80,784.01 C206.97,783.75 208.63,783.88 210.80,783.93 C212.97,783.98 215.13,783.98 217.80,784.29 C220.47,784.59 223.63,785.26 226.80,785.77 C229.97,786.28 234.13,787.13 236.80,787.32 C239.47,787.52 240.97,787.11 242.80,786.95 C244.63,786.78 246.13,786.94 247.80,786.35 C249.47,785.77 251.13,785.68 252.80,783.44 C254.47,781.20 256.38,777.25 257.80,772.89 C259.22,768.53 260.18,763.07 261.30,757.25 C262.42,751.44 263.42,745.00 264.50,738.00 C265.58,730.99 266.78,723.41 267.80,715.21 C268.82,707.01 269.75,695.45 270.60,688.79 C271.45,682.14 272.17,675.60 272.90,675.29 C273.63,674.98 274.13,678.29 275.00,686.95 C275.87,695.61 276.80,712.84 278.10,727.26 C279.40,741.67 281.37,760.31 282.80,773.42 C284.23,786.53 285.62,798.42 286.70,805.91 C287.78,813.41 288.53,815.90 289.30,818.39 C290.07,820.88 290.60,822.06 291.30,820.85 C292.00,819.65 292.85,813.33 293.50,811.18 C294.15,809.03 294.70,807.70 295.20,807.93 C295.70,808.17 296.07,809.96 296.50,812.59 C296.93,815.23 297.25,818.74 297.80,823.73 C298.35,828.72 299.03,837.20 299.80,842.54 C300.57,847.89 301.30,851.81 302.40,855.82 C303.50,859.82 304.95,861.69 306.40,866.58 C307.85,871.47 309.70,880.07 311.10,885.17 C312.50,890.27 313.57,897.20 314.80,897.20 C316.03,897.20 317.10,890.27 318.50,885.17 C319.90,880.07 321.75,871.47 323.20,866.58 C324.65,861.69 326.10,859.82 327.20,855.82 C328.30,851.81 329.03,847.89 329.80,842.54 C330.57,837.20 331.25,828.72 331.80,823.73 C332.35,818.74 332.67,815.23 333.10,812.59 C333.53,809.96 333.90,808.17 334.40,807.93 C334.90,807.70 335.45,809.03 336.10,811.18 C336.75,813.33 337.60,819.65 338.30,820.85 C339.00,822.06 339.53,820.88 340.30,818.39 C341.07,815.90 341.82,813.41 342.90,805.91 C343.98,798.42 345.37,786.53 346.80,773.42 C348.23,760.31 350.20,741.67 351.50,727.26 C352.80,712.84 353.73,695.61 354.60,686.95 C355.47,678.29 355.97,674.98 356.70,675.29 C357.43,675.60 358.15,682.14 359.00,688.79 C359.85,695.45 360.78,707.01 361.80,715.21 C362.82,723.41 364.02,730.99 365.10,738.00 C366.18,745.00 367.18,751.44 368.30,757.25 C369.42,763.07 370.38,768.53 371.80,772.89 C373.22,777.25 375.13,781.20 376.80,783.44 C378.47,785.68 380.13,785.77 381.80,786.35 C383.47,786.94 384.97,786.78 386.80,786.95 C388.63,787.11 390.13,787.52 392.80,787.32 C395.47,787.13 399.63,786.28 402.80,785.77 C405.97,785.26 409.13,784.59 411.80,784.29 C414.47,783.98 416.63,783.98 418.80,783.93 C420.97,783.88 422.63,783.75 424.80,784.01 C426.97,784.27 429.55,785.21 431.80,785.51 C434.05,785.82 436.05,785.84 438.30,785.84 C440.55,785.85 442.63,786.16 445.30,785.54 C447.97,784.91 451.40,783.60 454.30,782.09 C457.20,780.58 460.20,778.58 462.70,776.49 C465.20,774.41 467.03,772.41 469.30,769.57 C471.57,766.74 474.38,762.42 476.30,759.48 C478.22,756.53 479.38,754.61 480.80,751.90 C482.22,749.19 483.30,746.77 484.80,743.22 C486.30,739.67 488.13,735.13 489.80,730.59 C491.47,726.05 493.13,721.09 494.80,715.96 C496.47,710.83 498.13,705.37 499.80,699.83 C501.47,694.29 503.13,688.61 504.80,682.70 C506.47,676.79 508.13,670.83 509.80,664.39 C511.47,657.96 513.13,651.44 514.80,644.08 C516.47,636.73 518.25,628.63 519.80,620.28 C521.35,611.92 523.38,598.33 524.10,593.94" fill="none" stroke="#ec660c" stroke-width="5.50" stroke-linejoin="round" stroke-linecap="round" clip-path="url(#cc)"/>
<path d="M105.50,596.98 C106.22,601.38 108.25,614.98 109.80,623.35 C111.35,631.72 113.13,639.83 114.80,647.20 C116.47,654.57 118.13,661.10 119.80,667.55 C121.47,674.00 123.13,679.97 124.80,685.90 C126.47,691.83 128.13,697.54 129.80,703.11 C131.47,708.68 133.13,714.17 134.80,719.32 C136.47,724.47 138.13,729.46 139.80,734.03 C141.47,738.60 143.30,743.15 144.80,746.74 C146.30,750.33 147.38,752.83 148.80,755.60 C150.22,758.37 151.38,760.35 153.30,763.37 C155.22,766.40 158.03,770.84 160.30,773.77 C162.57,776.71 164.40,778.77 166.90,780.97 C169.40,783.18 172.40,785.36 175.30,787.00 C178.20,788.64 181.63,790.10 184.30,790.83 C186.97,791.55 189.05,791.32 191.30,791.35 C193.55,791.37 195.55,791.29 197.80,790.96 C200.05,790.63 202.63,789.73 204.80,789.37 C206.97,789.01 208.63,788.93 210.80,788.81 C212.97,788.69 215.13,788.53 217.80,788.68 C220.47,788.83 223.63,789.32 226.80,789.69 C229.97,790.06 234.13,790.78 236.80,790.91 C239.47,791.04 240.97,790.68 242.80,790.48 C244.63,790.28 246.13,790.36 247.80,789.69 C249.47,789.03 251.13,788.71 252.80,786.48 C254.47,784.25 256.38,780.53 257.80,776.33 C259.22,772.13 260.18,766.91 261.30,761.31 C262.42,755.71 263.42,749.52 264.50,742.73 C265.58,735.94 266.78,728.58 267.80,720.57 C268.82,712.56 269.75,701.17 270.60,694.68 C271.45,688.18 272.17,681.87 272.90,681.60 C273.63,681.34 274.13,684.69 275.00,693.10 C275.87,701.51 276.80,718.20 278.10,732.04 C279.40,745.88 281.37,763.61 282.80,776.14 C284.23,788.67 285.62,800.06 286.70,807.23 C287.78,814.40 288.53,816.82 289.30,819.17 C290.07,821.52 290.60,822.58 291.30,821.32 C292.00,820.05 292.85,813.75 293.50,811.57 C294.15,809.40 294.70,808.05 295.20,808.27 C295.70,808.49 296.07,810.28 296.50,812.90 C296.93,815.52 297.25,819.03 297.80,824.01 C298.35,828.98 299.03,837.44 299.80,842.77 C300.57,848.10 301.30,852.00 302.40,855.99 C303.50,859.97 304.95,861.82 306.40,866.69 C307.85,871.57 309.70,880.14 311.10,885.22 C312.50,890.31 313.57,897.20 314.80,897.20 C316.03,897.20 317.10,890.31 318.50,885.22 C319.90,880.14 321.75,871.57 323.20,866.69 C324.65,861.82 326.10,859.97 327.20,855.99 C328.30,852.00 329.03,848.10 329.80,842.77 C330.57,837.44 331.25,828.98 331.80,824.01 C332.35,819.03 332.67,815.52 333.10,812.90 C333.53,810.28 333.90,808.49 334.40,808.27 C334.90,808.05 335.45,809.40 336.10,811.57 C336.75,813.75 337.60,820.05 338.30,821.32 C339.00,822.58 339.53,821.52 340.30,819.17 C341.07,816.82 341.82,814.40 342.90,807.23 C343.98,800.06 345.37,788.67 346.80,776.14 C348.23,763.61 350.20,745.88 351.50,732.04 C352.80,718.20 353.73,701.51 354.60,693.10 C355.47,684.69 355.97,681.34 356.70,681.60 C357.43,681.87 358.15,688.18 359.00,694.68 C359.85,701.17 360.78,712.56 361.80,720.57 C362.82,728.58 364.02,735.94 365.10,742.73 C366.18,749.52 367.18,755.71 368.30,761.31 C369.42,766.91 370.38,772.13 371.80,776.33 C373.22,780.53 375.13,784.25 376.80,786.48 C378.47,788.71 380.13,789.03 381.80,789.69 C383.47,790.36 384.97,790.28 386.80,790.48 C388.63,790.68 390.13,791.04 392.80,790.91 C395.47,790.78 399.63,790.06 402.80,789.69 C405.97,789.32 409.13,788.83 411.80,788.68 C414.47,788.53 416.63,788.69 418.80,788.81 C420.97,788.93 422.63,789.01 424.80,789.37 C426.97,789.73 429.55,790.63 431.80,790.96 C434.05,791.29 436.05,791.37 438.30,791.35 C440.55,791.32 442.63,791.55 445.30,790.83 C447.97,790.10 451.40,788.64 454.30,787.00 C457.20,785.36 460.20,783.18 462.70,780.97 C465.20,778.77 467.03,776.71 469.30,773.77 C471.57,770.84 474.38,766.40 476.30,763.37 C478.22,760.35 479.38,758.37 480.80,755.60 C482.22,752.83 483.30,750.33 484.80,746.74 C486.30,743.15 488.13,738.60 489.80,734.03 C491.47,729.46 493.13,724.47 494.80,719.32 C496.47,714.17 498.13,708.68 499.80,703.11 C501.47,697.54 503.13,691.83 504.80,685.90 C506.47,679.97 508.13,674.00 509.80,667.55 C511.47,661.10 513.13,654.57 514.80,647.20 C516.47,639.83 518.25,631.72 519.80,623.35 C521.35,614.98 523.38,601.38 524.10,596.98" fill="none" stroke="#b9771a" stroke-width="5.50" stroke-linejoin="round" stroke-linecap="round" clip-path="url(#cc)"/>
<path d="M105.50,600.97 C106.22,605.37 108.25,619.00 109.80,627.39 C111.35,635.77 113.13,643.91 114.80,651.29 C116.47,658.68 118.13,665.23 119.80,671.70 C121.47,678.16 123.13,684.15 124.80,690.10 C126.47,696.05 128.13,701.81 129.80,707.41 C131.47,713.02 133.13,718.54 134.80,723.73 C136.47,728.92 138.13,733.94 139.80,738.54 C141.47,743.15 143.30,747.71 144.80,751.36 C146.30,755.01 147.38,757.60 148.80,760.45 C150.22,763.31 151.38,765.35 153.30,768.49 C155.22,771.63 158.03,776.23 160.30,779.29 C162.57,782.35 164.40,784.49 166.90,786.85 C169.40,789.21 172.40,791.63 175.30,793.45 C178.20,795.27 181.63,796.91 184.30,797.77 C186.97,798.62 189.05,798.51 191.30,798.57 C193.55,798.63 195.55,798.47 197.80,798.11 C200.05,797.74 202.63,796.89 204.80,796.40 C206.97,795.92 208.63,795.54 210.80,795.22 C212.97,794.89 215.13,794.51 217.80,794.44 C220.47,794.38 223.63,794.64 226.80,794.83 C229.97,795.03 234.13,795.56 236.80,795.61 C239.47,795.66 240.97,795.38 242.80,795.12 C244.63,794.87 246.13,794.85 247.80,794.08 C249.47,793.30 251.13,792.68 252.80,790.47 C254.47,788.26 256.38,784.82 257.80,780.84 C259.22,776.87 260.18,771.94 261.30,766.63 C262.42,761.31 263.42,755.45 264.50,748.95 C265.58,742.44 266.78,735.36 267.80,727.61 C268.82,719.85 269.75,708.68 270.60,702.40 C271.45,696.11 272.17,690.10 272.90,689.89 C273.63,689.69 274.13,693.10 275.00,701.17 C275.87,709.25 276.80,725.24 278.10,738.33 C279.40,751.42 281.37,767.94 282.80,779.71 C284.23,791.48 285.62,802.21 286.70,808.96 C287.78,815.70 288.53,818.03 289.30,820.20 C290.07,822.36 290.60,823.28 291.30,821.93 C292.00,820.58 292.85,814.29 293.50,812.09 C294.15,809.89 294.70,808.51 295.20,808.72 C295.70,808.92 296.07,810.69 296.50,813.30 C296.93,815.91 297.25,819.40 297.80,824.37 C298.35,829.33 299.03,837.76 299.80,843.07 C300.57,848.38 301.30,852.25 302.40,856.21 C303.50,860.17 304.95,861.99 306.40,866.84 C307.85,871.69 309.70,880.23 311.10,885.29 C312.50,890.35 313.57,897.20 314.80,897.20 C316.03,897.20 317.10,890.35 318.50,885.29 C319.90,880.23 321.75,871.69 323.20,866.84 C324.65,861.99 326.10,860.17 327.20,856.21 C328.30,852.25 329.03,848.38 329.80,843.07 C330.57,837.76 331.25,829.33 331.80,824.37 C332.35,819.40 332.67,815.91 333.10,813.30 C333.53,810.69 333.90,808.92 334.40,808.72 C334.90,808.51 335.45,809.89 336.10,812.09 C336.75,814.29 337.60,820.58 338.30,821.93 C339.00,823.28 339.53,822.36 340.30,820.20 C341.07,818.03 341.82,815.70 342.90,808.96 C343.98,802.21 345.37,791.48 346.80,779.71 C348.23,767.94 350.20,751.42 351.50,738.33 C352.80,725.24 353.73,709.25 354.60,701.17 C355.47,693.10 355.97,689.69 356.70,689.89 C357.43,690.10 358.15,696.11 359.00,702.40 C359.85,708.68 360.78,719.85 361.80,727.61 C362.82,735.36 364.02,742.44 365.10,748.95 C366.18,755.45 367.18,761.31 368.30,766.63 C369.42,771.94 370.38,776.87 371.80,780.84 C373.22,784.82 375.13,788.26 376.80,790.47 C378.47,792.68 380.13,793.30 381.80,794.08 C383.47,794.85 384.97,794.87 386.80,795.12 C388.63,795.38 390.13,795.66 392.80,795.61 C395.47,795.56 399.63,795.03 402.80,794.83 C405.97,794.64 409.13,794.38 411.80,794.44 C414.47,794.51 416.63,794.89 418.80,795.22 C420.97,795.54 422.63,795.92 424.80,796.40 C426.97,796.89 429.55,797.74 431.80,798.11 C434.05,798.47 436.05,798.63 438.30,798.57 C440.55,798.51 442.63,798.62 445.30,797.77 C447.97,796.91 451.40,795.27 454.30,793.45 C457.20,791.63 460.20,789.21 462.70,786.85 C465.20,784.49 467.03,782.35 469.30,779.29 C471.57,776.23 474.38,771.63 476.30,768.49 C478.22,765.35 479.38,763.31 480.80,760.45 C482.22,757.60 483.30,755.01 484.80,751.36 C486.30,747.71 488.13,743.15 489.80,738.54 C491.47,733.94 493.13,728.92 494.80,723.73 C496.47,718.54 498.13,713.02 499.80,707.41 C501.47,701.81 503.13,696.05 504.80,690.10 C506.47,684.15 508.13,678.16 509.80,671.70 C511.47,665.23 513.13,658.68 514.80,651.29 C516.47,643.91 518.25,635.77 519.80,627.39 C521.35,619.00 523.38,605.37 524.10,600.97" fill="none" stroke="#009216" stroke-width="5.50" stroke-linejoin="round" stroke-linecap="round" clip-path="url(#cc)"/>
<path d="M105.50,603.25 C106.22,607.66 108.25,621.30 109.80,629.69 C111.35,638.09 113.13,646.23 114.80,653.63 C116.47,661.02 118.13,667.59 119.80,674.06 C121.47,680.54 123.13,686.53 124.80,692.50 C126.47,698.47 128.13,704.25 129.80,709.88 C131.47,715.50 133.13,721.04 134.80,726.25 C136.47,731.46 138.13,736.50 139.80,741.12 C141.47,745.75 143.30,750.32 144.80,754.00 C146.30,757.68 147.38,760.32 148.80,763.22 C150.22,766.12 151.38,768.21 153.30,771.41 C155.22,774.61 158.03,779.30 160.30,782.44 C162.57,785.57 164.40,787.76 166.90,790.21 C169.40,792.65 172.40,795.21 175.30,797.13 C178.20,799.05 181.63,800.81 184.30,801.74 C186.97,802.66 189.05,802.62 191.30,802.70 C193.55,802.77 195.55,802.57 197.80,802.19 C200.05,801.81 202.63,800.98 204.80,800.42 C206.97,799.87 208.63,799.32 210.80,798.88 C212.97,798.43 215.13,797.92 217.80,797.74 C220.47,797.55 223.63,797.68 226.80,797.77 C229.97,797.87 234.13,798.30 236.80,798.30 C239.47,798.30 240.97,798.06 242.80,797.77 C244.63,797.49 246.13,797.42 247.80,796.58 C249.47,795.74 251.13,794.94 252.80,792.75 C254.47,790.56 256.38,787.27 257.80,783.42 C259.22,779.58 260.18,774.82 261.30,769.67 C262.42,764.51 263.42,758.84 264.50,752.50 C265.58,746.16 266.78,739.24 267.80,731.62 C268.82,724.01 269.75,712.97 270.60,706.81 C271.45,700.64 272.17,694.80 272.90,694.63 C273.63,694.46 274.13,697.91 275.00,705.79 C275.87,713.67 276.80,729.26 278.10,741.92 C279.40,754.58 281.37,770.41 282.80,781.75 C284.23,793.09 285.62,803.44 286.70,809.94 C287.78,816.45 288.53,818.73 289.30,820.78 C290.07,822.84 290.60,823.67 291.30,822.27 C292.00,820.88 292.85,814.60 293.50,812.38 C294.15,810.17 294.70,808.78 295.20,808.97 C295.70,809.16 296.07,810.92 296.50,813.52 C296.93,816.13 297.25,819.62 297.80,824.57 C298.35,829.52 299.03,837.95 299.80,843.24 C300.57,848.54 301.30,852.39 302.40,856.34 C303.50,860.28 304.95,862.09 306.40,866.93 C307.85,871.76 309.70,880.28 311.10,885.32 C312.50,890.37 313.57,897.20 314.80,897.20 C316.03,897.20 317.10,890.37 318.50,885.32 C319.90,880.28 321.75,871.76 323.20,866.93 C324.65,862.09 326.10,860.28 327.20,856.34 C328.30,852.39 329.03,848.54 329.80,843.24 C330.57,837.95 331.25,829.52 331.80,824.57 C332.35,819.62 332.67,816.13 333.10,813.52 C333.53,810.92 333.90,809.16 334.40,808.97 C334.90,808.78 335.45,810.17 336.10,812.38 C336.75,814.60 337.60,820.88 338.30,822.27 C339.00,823.67 339.53,822.84 340.30,820.78 C341.07,818.73 341.82,816.45 342.90,809.94 C343.98,803.44 345.37,793.09 346.80,781.75 C348.23,770.41 350.20,754.58 351.50,741.92 C352.80,729.26 353.73,713.67 354.60,705.79 C355.47,697.91 355.97,694.46 356.70,694.63 C357.43,694.80 358.15,700.64 359.00,706.81 C359.85,712.97 360.78,724.01 361.80,731.62 C362.82,739.24 364.02,746.16 365.10,752.50 C366.18,758.84 367.18,764.51 368.30,769.67 C369.42,774.82 370.38,779.58 371.80,783.42 C373.22,787.27 375.13,790.56 376.80,792.75 C378.47,794.94 380.13,795.74 381.80,796.58 C383.47,797.42 384.97,797.49 386.80,797.77 C388.63,798.06 390.13,798.30 392.80,798.30 C395.47,798.30 399.63,797.87 402.80,797.77 C405.97,797.68 409.13,797.55 411.80,797.74 C414.47,797.92 416.63,798.43 418.80,798.88 C420.97,799.32 422.63,799.87 424.80,800.42 C426.97,800.98 429.55,801.81 431.80,802.19 C434.05,802.57 436.05,802.77 438.30,802.70 C440.55,802.62 442.63,802.66 445.30,801.74 C447.97,800.81 451.40,799.05 454.30,797.13 C457.20,795.21 460.20,792.65 462.70,790.21 C465.20,787.76 467.03,785.57 469.30,782.44 C471.57,779.30 474.38,774.61 476.30,771.41 C478.22,768.21 479.38,766.12 480.80,763.22 C482.22,760.32 483.30,757.68 484.80,754.00 C486.30,750.32 488.13,745.75 489.80,741.12 C491.47,736.50 493.13,731.46 494.80,726.25 C496.47,721.04 498.13,715.50 499.80,709.88 C501.47,704.25 503.13,698.47 504.80,692.50 C506.47,686.53 508.13,680.54 509.80,674.06 C511.47,667.59 513.13,661.02 514.80,653.63 C516.47,646.23 518.25,638.09 519.80,629.69 C521.35,621.30 523.38,607.66 524.10,603.25" fill="none" stroke="#0b6a47" stroke-width="5.50" stroke-linejoin="round" stroke-linecap="round" clip-path="url(#cc)"/>
<path d="M105.50,605.72 C106.22,610.13 108.25,623.79 109.80,632.19 C111.35,640.60 113.13,648.76 114.80,656.16 C116.47,663.57 118.13,670.14 119.80,676.63 C121.47,683.12 123.13,689.12 124.80,695.10 C126.47,701.08 128.13,706.89 129.80,712.54 C131.47,718.19 133.13,723.75 134.80,728.98 C136.47,734.21 138.13,739.27 139.80,743.92 C141.47,748.57 143.30,753.14 144.80,756.86 C146.30,760.58 147.38,763.27 148.80,766.23 C150.22,769.18 151.38,771.31 153.30,774.58 C155.22,777.85 158.03,782.64 160.30,785.85 C162.57,789.06 164.40,791.30 166.90,793.84 C169.40,796.39 172.40,799.09 175.30,801.12 C178.20,803.15 181.63,805.02 184.30,806.03 C186.97,807.04 189.05,807.07 191.30,807.17 C193.55,807.27 195.55,807.01 197.80,806.62 C200.05,806.22 202.63,805.41 204.80,804.78 C206.97,804.15 208.63,803.42 210.80,802.84 C212.97,802.26 215.13,801.62 217.80,801.31 C220.47,800.99 223.63,800.98 226.80,800.96 C229.97,800.94 234.13,801.26 236.80,801.21 C239.47,801.16 240.97,800.97 242.80,800.65 C244.63,800.33 246.13,800.20 247.80,799.29 C249.47,798.39 251.13,797.40 252.80,795.22 C254.47,793.04 256.38,789.93 257.80,786.22 C259.22,782.51 260.18,777.94 261.30,772.96 C262.42,767.98 263.42,762.51 264.50,756.35 C265.58,750.18 266.78,743.44 267.80,735.98 C268.82,728.52 269.75,717.62 270.60,711.59 C271.45,705.55 272.17,699.90 272.90,699.76 C273.63,699.63 274.13,703.11 275.00,710.79 C275.87,718.46 276.80,733.61 278.10,745.81 C279.40,758.00 281.37,773.09 282.80,783.96 C284.23,794.83 285.62,804.77 286.70,811.01 C287.78,817.26 288.53,819.48 289.30,821.41 C290.07,823.35 290.60,824.10 291.30,822.65 C292.00,821.20 292.85,814.94 293.50,812.70 C294.15,810.47 294.70,809.07 295.20,809.25 C295.70,809.42 296.07,811.18 296.50,813.77 C296.93,816.36 297.25,819.85 297.80,824.79 C298.35,829.74 299.03,838.15 299.80,843.43 C300.57,848.71 301.30,852.54 302.40,856.47 C303.50,860.40 304.95,862.20 306.40,867.02 C307.85,871.83 309.70,880.33 311.10,885.36 C312.50,890.39 313.57,897.20 314.80,897.20 C316.03,897.20 317.10,890.39 318.50,885.36 C319.90,880.33 321.75,871.83 323.20,867.02 C324.65,862.20 326.10,860.40 327.20,856.47 C328.30,852.54 329.03,848.71 329.80,843.43 C330.57,838.15 331.25,829.74 331.80,824.79 C332.35,819.85 332.67,816.36 333.10,813.77 C333.53,811.18 333.90,809.42 334.40,809.25 C334.90,809.07 335.45,810.47 336.10,812.70 C336.75,814.94 337.60,821.20 338.30,822.65 C339.00,824.10 339.53,823.35 340.30,821.41 C341.07,819.48 341.82,817.26 342.90,811.01 C343.98,804.77 345.37,794.83 346.80,783.96 C348.23,773.09 350.20,758.00 351.50,745.81 C352.80,733.61 353.73,718.46 354.60,710.79 C355.47,703.11 355.97,699.63 356.70,699.76 C357.43,699.90 358.15,705.55 359.00,711.59 C359.85,717.62 360.78,728.52 361.80,735.98 C362.82,743.44 364.02,750.18 365.10,756.35 C366.18,762.51 367.18,767.98 368.30,772.96 C369.42,777.94 370.38,782.51 371.80,786.22 C373.22,789.93 375.13,793.04 376.80,795.22 C378.47,797.40 380.13,798.39 381.80,799.29 C383.47,800.20 384.97,800.33 386.80,800.65 C388.63,800.97 390.13,801.16 392.80,801.21 C395.47,801.26 399.63,800.94 402.80,800.96 C405.97,800.98 409.13,800.99 411.80,801.31 C414.47,801.62 416.63,802.26 418.80,802.84 C420.97,803.42 422.63,804.15 424.80,804.78 C426.97,805.41 429.55,806.22 431.80,806.62 C434.05,807.01 436.05,807.27 438.30,807.17 C440.55,807.07 442.63,807.04 445.30,806.03 C447.97,805.02 451.40,803.15 454.30,801.12 C457.20,799.09 460.20,796.39 462.70,793.84 C465.20,791.30 467.03,789.06 469.30,785.85 C471.57,782.64 474.38,777.85 476.30,774.58 C478.22,771.31 479.38,769.18 480.80,766.23 C482.22,763.27 483.30,760.58 484.80,756.86 C486.30,753.14 488.13,748.57 489.80,743.92 C491.47,739.27 493.13,734.21 494.80,728.98 C496.47,723.75 498.13,718.19 499.80,712.54 C501.47,706.89 503.13,701.08 504.80,695.10 C506.47,689.12 508.13,683.12 509.80,676.63 C511.47,670.14 513.13,663.57 514.80,656.16 C516.47,648.76 518.25,640.60 519.80,632.19 C521.35,623.79 523.38,610.13 524.10,605.72" fill="none" stroke="#1070a6" stroke-width="5.50" stroke-linejoin="round" stroke-linecap="round" clip-path="url(#cc)"/>
<path d="M105.50,607.24 C106.22,611.66 108.25,625.32 109.80,633.73 C111.35,642.14 113.13,650.31 114.80,657.72 C116.47,665.13 118.13,671.71 119.80,678.21 C121.47,684.71 123.13,690.71 124.80,696.70 C126.47,702.69 128.13,708.52 129.80,714.18 C131.47,719.84 133.13,725.42 134.80,730.66 C136.47,735.90 138.13,740.98 139.80,745.64 C141.47,750.30 143.30,754.88 144.80,758.62 C146.30,762.36 147.38,765.09 148.80,768.08 C150.22,771.06 151.38,773.21 153.30,776.53 C155.22,779.84 158.03,784.69 160.30,787.95 C162.57,791.21 164.40,793.48 166.90,796.08 C169.40,798.68 172.40,801.47 175.30,803.57 C178.20,805.67 181.63,807.62 184.30,808.68 C186.97,809.74 189.05,809.81 191.30,809.92 C193.55,810.03 195.55,809.75 197.80,809.34 C200.05,808.93 202.63,808.14 204.80,807.46 C206.97,806.78 208.63,805.94 210.80,805.28 C212.97,804.62 215.13,803.90 217.80,803.50 C220.47,803.11 223.63,803.00 226.80,802.92 C229.97,802.84 234.13,803.09 236.80,803.00 C239.47,802.92 240.97,802.76 242.80,802.42 C244.63,802.08 246.13,801.91 247.80,800.96 C249.47,800.02 251.13,798.91 252.80,796.74 C254.47,794.57 256.38,791.57 257.80,787.94 C259.22,784.31 260.18,779.86 261.30,774.99 C262.42,770.12 263.42,764.77 264.50,758.72 C265.58,752.66 266.78,746.02 267.80,738.66 C268.82,731.30 269.75,720.49 270.60,714.53 C271.45,708.57 272.17,703.03 272.90,702.92 C273.63,702.81 274.13,706.31 275.00,713.86 C275.87,721.41 276.80,736.29 278.10,748.20 C279.40,760.11 281.37,774.74 282.80,785.32 C284.23,795.90 285.62,805.59 286.70,811.67 C287.78,817.75 288.53,819.94 289.30,821.80 C290.07,823.67 290.60,824.37 291.30,822.88 C292.00,821.40 292.85,815.15 293.50,812.90 C294.15,810.66 294.70,809.24 295.20,809.42 C295.70,809.59 296.07,811.34 296.50,813.92 C296.93,816.51 297.25,819.99 297.80,824.93 C298.35,829.87 299.03,838.27 299.80,843.54 C300.57,848.81 301.30,852.64 302.40,856.56 C303.50,860.48 304.95,862.27 306.40,867.07 C307.85,871.88 309.70,880.37 311.10,885.39 C312.50,890.41 313.57,897.20 314.80,897.20 C316.03,897.20 317.10,890.41 318.50,885.39 C319.90,880.37 321.75,871.88 323.20,867.07 C324.65,862.27 326.10,860.48 327.20,856.56 C328.30,852.64 329.03,848.81 329.80,843.54 C330.57,838.27 331.25,829.87 331.80,824.93 C332.35,819.99 332.67,816.51 333.10,813.92 C333.53,811.34 333.90,809.59 334.40,809.42 C334.90,809.24 335.45,810.66 336.10,812.90 C336.75,815.15 337.60,821.40 338.30,822.88 C339.00,824.37 339.53,823.67 340.30,821.80 C341.07,819.94 341.82,817.75 342.90,811.67 C343.98,805.59 345.37,795.90 346.80,785.32 C348.23,774.74 350.20,760.11 351.50,748.20 C352.80,736.29 353.73,721.41 354.60,713.86 C355.47,706.31 355.97,702.81 356.70,702.92 C357.43,703.03 358.15,708.57 359.00,714.53 C359.85,720.49 360.78,731.30 361.80,738.66 C362.82,746.02 364.02,752.66 365.10,758.72 C366.18,764.77 367.18,770.12 368.30,774.99 C369.42,779.86 370.38,784.31 371.80,787.94 C373.22,791.57 375.13,794.57 376.80,796.74 C378.47,798.91 380.13,800.02 381.80,800.96 C383.47,801.91 384.97,802.08 386.80,802.42 C388.63,802.76 390.13,802.92 392.80,803.00 C395.47,803.09 399.63,802.84 402.80,802.92 C405.97,803.00 409.13,803.11 411.80,803.50 C414.47,803.90 416.63,804.62 418.80,805.28 C420.97,805.94 422.63,806.78 424.80,807.46 C426.97,808.14 429.55,808.93 431.80,809.34 C434.05,809.75 436.05,810.03 438.30,809.92 C440.55,809.81 442.63,809.74 445.30,808.68 C447.97,807.62 451.40,805.67 454.30,803.57 C457.20,801.47 460.20,798.68 462.70,796.08 C465.20,793.48 467.03,791.21 469.30,787.95 C471.57,784.69 474.38,779.84 476.30,776.53 C478.22,773.21 479.38,771.06 480.80,768.08 C482.22,765.09 483.30,762.36 484.80,758.62 C486.30,754.88 488.13,750.30 489.80,745.64 C491.47,740.98 493.13,735.90 494.80,730.66 C496.47,725.42 498.13,719.84 499.80,714.18 C501.47,708.52 503.13,702.69 504.80,696.70 C506.47,690.71 508.13,684.71 509.80,678.21 C511.47,671.71 513.13,665.13 514.80,657.72 C516.47,650.31 518.25,642.14 519.80,633.73 C521.35,625.32 523.38,611.66 524.10,607.24" fill="none" stroke="#2b61b1" stroke-width="5.50" stroke-linejoin="round" stroke-linecap="round" clip-path="url(#cc)"/>
<path d="M105.50,608.00 C106.22,612.42 108.25,626.08 109.80,634.50 C111.35,642.92 113.13,651.08 114.80,658.50 C116.47,665.92 118.13,672.50 119.80,679.00 C121.47,685.50 123.13,691.50 124.80,697.50 C126.47,703.50 128.13,709.33 129.80,715.00 C131.47,720.67 133.13,726.25 134.80,731.50 C136.47,736.75 138.13,741.83 139.80,746.50 C141.47,751.17 143.30,755.75 144.80,759.50 C146.30,763.25 147.38,766.00 148.80,769.00 C150.22,772.00 151.38,774.17 153.30,777.50 C155.22,780.83 158.03,785.72 160.30,789.00 C162.57,792.28 164.40,794.57 166.90,797.20 C169.40,799.83 172.40,802.67 175.30,804.80 C178.20,806.93 181.63,808.92 184.30,810.00 C186.97,811.08 189.05,811.18 191.30,811.30 C193.55,811.42 195.55,811.12 197.80,810.70 C200.05,810.28 202.63,809.50 204.80,808.80 C206.97,808.10 208.63,807.20 210.80,806.50 C212.97,805.80 215.13,805.03 217.80,804.60 C220.47,804.17 223.63,804.02 226.80,803.90 C229.97,803.78 234.13,804.00 236.80,803.90 C239.47,803.80 240.97,803.65 242.80,803.30 C244.63,802.95 246.13,802.77 247.80,801.80 C249.47,800.83 251.13,799.67 252.80,797.50 C254.47,795.33 256.38,792.38 257.80,788.80 C259.22,785.22 260.18,780.82 261.30,776.00 C262.42,771.18 263.42,765.90 264.50,759.90 C265.58,753.90 266.78,747.32 267.80,740.00 C268.82,732.68 269.75,721.92 270.60,716.00 C271.45,710.08 272.17,704.60 272.90,704.50 C273.63,704.40 274.13,707.92 275.00,715.40 C275.87,722.88 276.80,737.63 278.10,749.40 C279.40,761.17 281.37,775.57 282.80,786.00 C284.23,796.43 285.62,806.00 286.70,812.00 C287.78,818.00 288.53,820.17 289.30,822.00 C290.07,823.83 290.60,824.50 291.30,823.00 C292.00,821.50 292.85,815.25 293.50,813.00 C294.15,810.75 294.70,809.33 295.20,809.50 C295.70,809.67 296.07,811.42 296.50,814.00 C296.93,816.58 297.25,820.07 297.80,825.00 C298.35,829.93 299.03,838.33 299.80,843.60 C300.57,848.87 301.30,852.68 302.40,856.60 C303.50,860.52 304.95,862.30 306.40,867.10 C307.85,871.90 309.70,880.38 311.10,885.40 C312.50,890.42 313.57,897.20 314.80,897.20 C316.03,897.20 317.10,890.42 318.50,885.40 C319.90,880.38 321.75,871.90 323.20,867.10 C324.65,862.30 326.10,860.52 327.20,856.60 C328.30,852.68 329.03,848.87 329.80,843.60 C330.57,838.33 331.25,829.93 331.80,825.00 C332.35,820.07 332.67,816.58 333.10,814.00 C333.53,811.42 333.90,809.67 334.40,809.50 C334.90,809.33 335.45,810.75 336.10,813.00 C336.75,815.25 337.60,821.50 338.30,823.00 C339.00,824.50 339.53,823.83 340.30,822.00 C341.07,820.17 341.82,818.00 342.90,812.00 C343.98,806.00 345.37,796.43 346.80,786.00 C348.23,775.57 350.20,761.17 351.50,749.40 C352.80,737.63 353.73,722.88 354.60,715.40 C355.47,707.92 355.97,704.40 356.70,704.50 C357.43,704.60 358.15,710.08 359.00,716.00 C359.85,721.92 360.78,732.68 361.80,740.00 C362.82,747.32 364.02,753.90 365.10,759.90 C366.18,765.90 367.18,771.18 368.30,776.00 C369.42,780.82 370.38,785.22 371.80,788.80 C373.22,792.38 375.13,795.33 376.80,797.50 C378.47,799.67 380.13,800.83 381.80,801.80 C383.47,802.77 384.97,802.95 386.80,803.30 C388.63,803.65 390.13,803.80 392.80,803.90 C395.47,804.00 399.63,803.78 402.80,803.90 C405.97,804.02 409.13,804.17 411.80,804.60 C414.47,805.03 416.63,805.80 418.80,806.50 C420.97,807.20 422.63,808.10 424.80,808.80 C426.97,809.50 429.55,810.28 431.80,810.70 C434.05,811.12 436.05,811.42 438.30,811.30 C440.55,811.18 442.63,811.08 445.30,810.00 C447.97,808.92 451.40,806.93 454.30,804.80 C457.20,802.67 460.20,799.83 462.70,797.20 C465.20,794.57 467.03,792.28 469.30,789.00 C471.57,785.72 474.38,780.83 476.30,777.50 C478.22,774.17 479.38,772.00 480.80,769.00 C482.22,766.00 483.30,763.25 484.80,759.50 C486.30,755.75 488.13,751.17 489.80,746.50 C491.47,741.83 493.13,736.75 494.80,731.50 C496.47,726.25 498.13,720.67 499.80,715.00 C501.47,709.33 503.13,703.50 504.80,697.50 C506.47,691.50 508.13,685.50 509.80,679.00 C511.47,672.50 513.13,665.92 514.80,658.50 C516.47,651.08 518.25,642.92 519.80,634.50 C521.35,626.08 523.38,612.42 524.10,608.00" fill="none" stroke="#282888" stroke-width="5.50" stroke-linejoin="round" stroke-linecap="round" clip-path="url(#cc)"/>
<line x1="82.40" y1="562.40" x2="82.40" y2="911.80" stroke="#000" stroke-width="2.40" stroke-linecap="butt" />
<line x1="547.20" y1="561.20" x2="547.20" y2="911.80" stroke="#000" stroke-width="2.40" stroke-linecap="butt" />
<line x1="81.20" y1="562.40" x2="548.40" y2="562.40" stroke="#000" stroke-width="2.40" stroke-linecap="butt" />
<line x1="81.20" y1="910.60" x2="548.40" y2="910.60" stroke="#000" stroke-width="2.40" stroke-linecap="butt" />
<line x1="82.40" y1="910.80" x2="94.90" y2="910.80" stroke="#000" stroke-width="2.20" stroke-linecap="butt" />
<line x1="82.40" y1="823.50" x2="94.90" y2="823.50" stroke="#000" stroke-width="2.20" stroke-linecap="butt" />
<line x1="82.40" y1="736.20" x2="94.90" y2="736.20" stroke="#000" stroke-width="2.20" stroke-linecap="butt" />
<line x1="82.40" y1="648.90" x2="94.90" y2="648.90" stroke="#000" stroke-width="2.20" stroke-linecap="butt" />
<line x1="82.40" y1="561.60" x2="94.90" y2="561.60" stroke="#000" stroke-width="2.20" stroke-linecap="butt" />
<line x1="82.40" y1="867.15" x2="88.90" y2="867.15" stroke="#000" stroke-width="2.20" stroke-linecap="butt" />
<line x1="82.40" y1="779.85" x2="88.90" y2="779.85" stroke="#000" stroke-width="2.20" stroke-linecap="butt" />
<line x1="82.40" y1="692.55" x2="88.90" y2="692.55" stroke="#000" stroke-width="2.20" stroke-linecap="butt" />
<line x1="82.40" y1="605.25" x2="88.90" y2="605.25" stroke="#000" stroke-width="2.20" stroke-linecap="butt" />
<line x1="82.40" y1="910.60" x2="82.40" y2="898.10" stroke="#000" stroke-width="2.20" stroke-linecap="butt" />
<line x1="198.60" y1="910.60" x2="198.60" y2="898.10" stroke="#000" stroke-width="2.20" stroke-linecap="butt" />
<line x1="314.80" y1="910.60" x2="314.80" y2="898.10" stroke="#000" stroke-width="2.20" stroke-linecap="butt" />
<line x1="431.00" y1="910.60" x2="431.00" y2="898.10" stroke="#000" stroke-width="2.20" stroke-linecap="butt" />
<line x1="547.20" y1="910.60" x2="547.20" y2="898.10" stroke="#000" stroke-width="2.20" stroke-linecap="butt" />
<line x1="140.50" y1="910.60" x2="140.50" y2="904.10" stroke="#000" stroke-width="2.20" stroke-linecap="butt" />
<line x1="256.70" y1="910.60" x2="256.70" y2="904.10" stroke="#000" stroke-width="2.20" stroke-linecap="butt" />
<line x1="372.90" y1="910.60" x2="372.90" y2="904.10" stroke="#000" stroke-width="2.20" stroke-linecap="butt" />
<line x1="489.10" y1="910.60" x2="489.10" y2="904.10" stroke="#000" stroke-width="2.20" stroke-linecap="butt" />
<text x="52.95" y="919.40" font-size="29.50" fill="#000" font-weight="normal" font-style="normal" >0</text>
<text x="53.28" y="832.40" font-size="29.50" fill="#000" font-weight="normal" font-style="normal" >2</text>
<text x="52.66" y="745.40" font-size="29.50" fill="#000" font-weight="normal" font-style="normal" >4</text>
<text x="53.09" y="659.00" font-size="29.50" fill="#000" font-weight="normal" font-style="normal" >6</text>
<text x="53.08" y="570.70" font-size="29.50" fill="#000" font-weight="normal" font-style="normal" >8</text>
<text x="56.13" y="945.80" font-size="29.50" fill="#000" font-weight="normal" font-style="normal" >−10</text>
<text x="181.07" y="945.80" font-size="29.50" fill="#000" font-weight="normal" font-style="normal" >−5</text>
<text x="306.50" y="945.80" font-size="29.50" fill="#000" font-weight="normal" font-style="normal" >0</text>
<text x="423.23" y="945.80" font-size="29.50" fill="#000" font-weight="normal" font-style="normal" >5</text>
<text x="532.05" y="945.80" font-size="29.50" fill="#000" font-weight="normal" font-style="normal" >10</text>
<text x="283.80" y="987.40" font-size="30.00" fill="#000" ><tspan font-style="italic">B</tspan><tspan dx="-2"> (T)</tspan></text>
<text transform="translate(28.8,813.4) rotate(-90)" font-size="28.6" fill="#000"><tspan font-style="italic">ρ</tspan><tspan font-size="21" dy="5">xx</tspan><tspan dy="-5"> (mΩ cm)</tspan></text>
<line x1="126.60" y1="600.10" x2="165.30" y2="600.10" stroke="#880000" stroke-width="4.40" stroke-linecap="round" />
<text x="180.63" y="607.40" font-size="25.00" fill="#000" font-weight="normal" font-style="normal" >4 K</text>
<line x1="256.00" y1="600.10" x2="294.70" y2="600.10" stroke="#cd2d2d" stroke-width="4.40" stroke-linecap="round" />
<text x="309.44" y="607.40" font-size="25.00" fill="#000" font-weight="normal" font-style="normal" >2 K</text>
<line x1="385.40" y1="600.10" x2="424.10" y2="600.10" stroke="#ec660c" stroke-width="4.40" stroke-linecap="round" />
<text x="438.80" y="607.40" font-size="25.00" fill="#000" font-weight="normal" font-style="normal" >1.5 K</text>
<line x1="126.60" y1="638.30" x2="165.30" y2="638.30" stroke="#b9771a" stroke-width="4.40" stroke-linecap="round" />
<text x="180.22" y="646.40" font-size="25.00" fill="#000" font-weight="normal" font-style="normal" >0.8 K</text>
<line x1="258.90" y1="638.30" x2="297.00" y2="638.30" stroke="#009216" stroke-width="4.40" stroke-linecap="round" />
<text x="309.72" y="646.40" font-size="25.00" fill="#000" font-weight="normal" font-style="normal" >0.4 K</text>
<line x1="386.80" y1="638.30" x2="425.60" y2="638.30" stroke="#0b6a47" stroke-width="4.40" stroke-linecap="round" />
<text x="439.72" y="646.40" font-size="25.00" fill="#000" font-weight="normal" font-style="normal" >0.2 K</text>
<line x1="388.80" y1="676.30" x2="427.00" y2="676.30" stroke="#1070a6" stroke-width="4.40" stroke-linecap="round" />
<text x="439.72" y="684.40" font-size="25.00" fill="#000" font-weight="normal" font-style="normal" >0.1 K</text>
<line x1="390.30" y1="843.50" x2="430.40" y2="843.50" stroke="#2b61b1" stroke-width="4.40" stroke-linecap="round" />
<text x="442.92" y="852.10" font-size="25.00" fill="#000" font-weight="normal" font-style="normal" >75 mK</text>
<line x1="390.30" y1="882.00" x2="430.40" y2="882.00" stroke="#282888" stroke-width="4.40" stroke-linecap="round" />
<text x="442.60" y="889.90" font-size="25.00" fill="#000" font-weight="normal" font-style="normal" >50 mK</text>
<text x="109.24" y="883.80" font-size="26.00" fill="#000" font-weight="bold" font-style="italic" >B</text>
<line x1="135.90" y1="865.40" x2="135.90" y2="883.80" stroke="#000" stroke-width="2.00" stroke-linecap="butt" />
<line x1="142.70" y1="865.40" x2="142.70" y2="883.80" stroke="#000" stroke-width="2.00" stroke-linecap="butt" />
<text x="153.55" y="883.80" font-size="25.00" fill="#000" font-weight="normal" font-style="italic" >z</text>
<text x="673.38" y="555.50" font-size="42.00" fill="#000" font-weight="bold" font-style="normal" >d</text>
<defs><clipPath id="cd"><rect x="797.6" y="559.0" width="464.9" height="348.2"/></clipPath></defs>
<path d="M820.10,775.50 C821.10,775.03 824.10,773.61 826.10,772.66 C828.10,771.72 830.10,770.77 832.11,769.83 C834.11,768.88 836.11,767.95 838.11,766.99 C840.11,766.02 842.11,765.04 844.11,764.04 C846.11,763.05 848.11,762.04 850.11,761.04 C852.12,760.04 854.12,759.03 856.12,758.04 C858.12,757.06 860.12,756.06 862.12,755.13 C864.12,754.20 866.12,753.34 868.12,752.44 C870.12,751.55 872.12,750.65 874.13,749.75 C876.13,748.86 878.13,747.92 880.13,747.07 C882.13,746.21 884.13,745.44 886.13,744.63 C888.13,743.82 890.13,743.02 892.13,742.21 C894.14,741.41 896.14,740.57 898.14,739.79 C900.14,739.02 902.14,738.29 904.14,737.57 C906.14,736.85 908.14,736.17 910.14,735.48 C912.14,734.78 914.14,734.08 916.15,733.39 C918.15,732.69 920.15,731.99 922.15,731.29 C924.15,730.59 926.15,729.87 928.15,729.17 C930.15,728.46 932.15,727.75 934.15,727.05 C936.16,726.34 938.16,725.67 940.16,724.93 C942.16,724.18 944.16,723.36 946.16,722.57 C948.16,721.78 950.16,720.87 952.16,720.19 C954.16,719.50 956.16,718.94 958.17,718.45 C960.17,717.96 962.17,717.66 964.17,717.26 C966.17,716.86 968.17,716.47 970.17,716.07 C972.17,715.68 974.17,715.71 976.17,714.88 C978.18,714.05 980.18,712.45 982.18,711.10 C984.18,709.74 986.18,708.26 988.18,706.74 C990.18,705.23 992.18,703.54 994.18,701.99 C996.18,700.44 998.18,698.93 1000.19,697.46 C1002.19,695.99 1004.19,694.61 1006.19,693.16 C1008.19,691.71 1010.19,690.33 1012.19,688.74 C1014.19,687.15 1016.19,685.34 1018.19,683.63 C1020.20,681.93 1022.20,680.26 1024.20,678.52 C1026.20,676.78 1028.20,674.98 1030.20,673.19 C1032.20,671.41 1034.20,669.53 1036.20,667.81 C1038.20,666.08 1040.20,664.38 1042.21,662.84 C1044.21,661.30 1046.21,660.02 1048.21,658.59 C1050.21,657.17 1052.21,655.73 1054.21,654.29 C1056.21,652.86 1058.21,651.45 1060.21,649.99 C1062.22,648.54 1064.22,647.05 1066.22,645.56 C1068.22,644.07 1070.22,642.50 1072.22,641.06 C1074.22,639.62 1076.22,638.26 1078.22,636.90 C1080.22,635.54 1082.22,633.71 1084.23,632.92 C1086.23,632.12 1088.23,632.37 1090.23,632.13 C1092.23,631.88 1094.23,631.74 1096.23,631.43 C1098.23,631.12 1100.23,630.74 1102.23,630.25 C1104.24,629.77 1106.24,629.32 1108.24,628.54 C1110.24,627.75 1112.24,626.55 1114.24,625.56 C1116.24,624.56 1118.24,623.46 1120.24,622.58 C1122.24,621.69 1124.24,621.01 1126.25,620.24 C1128.25,619.46 1130.25,618.70 1132.25,617.94 C1134.25,617.17 1136.25,616.38 1138.25,615.64 C1140.25,614.89 1142.25,614.17 1144.25,613.46 C1146.26,612.75 1148.26,612.07 1150.26,611.37 C1152.26,610.67 1154.26,609.98 1156.26,609.28 C1158.26,608.58 1160.26,607.88 1162.26,607.16 C1164.26,606.43 1166.26,605.67 1168.27,604.93 C1170.27,604.19 1172.27,603.44 1174.27,602.70 C1176.27,601.96 1178.27,601.28 1180.27,600.47 C1182.27,599.66 1184.27,598.73 1186.27,597.84 C1188.28,596.95 1190.28,596.05 1192.28,595.15 C1194.28,594.25 1196.28,593.36 1198.28,592.46 C1200.28,591.56 1202.28,590.66 1204.28,589.76 C1206.28,588.86 1208.28,587.95 1210.29,587.04 C1212.29,586.14 1214.29,585.23 1216.29,584.32 C1218.29,583.42 1220.29,582.51 1222.29,581.62 C1224.29,580.73 1226.29,579.86 1228.29,578.98 C1230.30,578.10 1232.30,577.22 1234.30,576.34 C1236.30,575.46 1239.30,574.14 1240.30,573.70" fill="none" stroke="#880000" stroke-width="5.10" stroke-linejoin="round" stroke-linecap="round" clip-path="url(#cd)"/>
<path d="M820.10,790.89 C821.10,790.36 824.10,788.77 826.10,787.74 C828.10,786.71 830.10,785.70 832.11,784.72 C834.11,783.74 836.11,782.83 838.11,781.86 C840.11,780.89 842.11,779.90 844.11,778.91 C846.11,777.91 848.11,776.91 850.11,775.91 C852.12,774.90 854.12,773.89 856.12,772.90 C858.12,771.92 860.12,770.92 862.12,769.98 C864.12,769.04 866.12,768.16 868.12,767.25 C870.12,766.35 872.12,765.42 874.13,764.53 C876.13,763.64 878.13,762.75 880.13,761.91 C882.13,761.08 884.13,760.32 886.13,759.52 C888.13,758.72 890.13,757.92 892.13,757.14 C894.14,756.36 896.14,755.55 898.14,754.81 C900.14,754.07 902.14,753.39 904.14,752.70 C906.14,752.02 908.14,751.40 910.14,750.70 C912.14,750.01 914.14,749.27 916.15,748.55 C918.15,747.83 920.15,747.11 922.15,746.38 C924.15,745.65 926.15,744.92 928.15,744.17 C930.15,743.42 932.15,742.64 934.15,741.87 C936.16,741.10 938.16,740.37 940.16,739.56 C942.16,738.76 944.16,737.87 946.16,737.05 C948.16,736.24 950.16,735.35 952.16,734.66 C954.16,733.97 956.16,733.38 958.17,732.89 C960.17,732.41 962.17,732.14 964.17,731.77 C966.17,731.39 968.17,731.01 970.17,730.65 C972.17,730.29 974.17,730.34 976.17,729.60 C978.18,728.87 980.18,727.54 982.18,726.25 C984.18,724.96 986.18,723.45 988.18,721.86 C990.18,720.28 992.18,718.36 994.18,716.73 C996.18,715.10 998.18,713.56 1000.19,712.10 C1002.19,710.64 1004.19,709.39 1006.19,707.96 C1008.19,706.54 1010.19,705.11 1012.19,703.55 C1014.19,701.98 1016.19,700.25 1018.19,698.59 C1020.20,696.92 1022.20,695.32 1024.20,693.58 C1026.20,691.83 1028.20,689.93 1030.20,688.11 C1032.20,686.29 1034.20,684.41 1036.20,682.66 C1038.20,680.92 1040.20,679.21 1042.21,677.62 C1044.21,676.02 1046.21,674.56 1048.21,673.09 C1050.21,671.62 1052.21,670.21 1054.21,668.79 C1056.21,667.38 1058.21,666.09 1060.21,664.61 C1062.22,663.12 1064.22,661.49 1066.22,659.88 C1068.22,658.27 1070.22,656.43 1072.22,654.94 C1074.22,653.45 1076.22,652.17 1078.22,650.94 C1080.22,649.70 1082.22,648.20 1084.23,647.53 C1086.23,646.86 1088.23,647.12 1090.23,646.90 C1092.23,646.69 1094.23,646.54 1096.23,646.23 C1098.23,645.93 1100.23,645.55 1102.23,645.07 C1104.24,644.58 1106.24,644.11 1108.24,643.33 C1110.24,642.55 1112.24,641.36 1114.24,640.37 C1116.24,639.39 1118.24,638.32 1120.24,637.41 C1122.24,636.50 1124.24,635.73 1126.25,634.90 C1128.25,634.07 1130.25,633.24 1132.25,632.42 C1134.25,631.60 1136.25,630.75 1138.25,629.98 C1140.25,629.20 1142.25,628.48 1144.25,627.75 C1146.26,627.02 1148.26,626.30 1150.26,625.60 C1152.26,624.91 1154.26,624.27 1156.26,623.60 C1158.26,622.93 1160.26,622.28 1162.26,621.58 C1164.26,620.89 1166.26,620.15 1168.27,619.43 C1170.27,618.71 1172.27,617.98 1174.27,617.25 C1176.27,616.52 1178.27,615.87 1180.27,615.06 C1182.27,614.26 1184.27,613.30 1186.27,612.40 C1188.28,611.50 1190.28,610.58 1192.28,609.67 C1194.28,608.76 1196.28,607.85 1198.28,606.94 C1200.28,606.04 1202.28,605.13 1204.28,604.22 C1206.28,603.31 1208.28,602.41 1210.29,601.50 C1212.29,600.60 1214.29,599.69 1216.29,598.79 C1218.29,597.88 1220.29,596.97 1222.29,596.08 C1224.29,595.19 1226.29,594.32 1228.29,593.43 C1230.30,592.55 1232.30,591.67 1234.30,590.79 C1236.30,589.90 1239.30,588.58 1240.30,588.14" fill="none" stroke="#cd2d2d" stroke-width="5.10" stroke-linejoin="round" stroke-linecap="round" clip-path="url(#cd)"/>
<path d="M820.10,806.27 C821.10,805.70 824.10,803.93 826.10,802.82 C828.10,801.71 830.10,800.62 832.11,799.61 C834.11,798.59 836.11,797.70 838.11,796.73 C840.11,795.76 842.11,794.76 844.11,793.77 C846.11,792.78 848.11,791.77 850.11,790.77 C852.12,789.77 854.12,788.76 856.12,787.77 C858.12,786.78 860.12,785.78 862.12,784.83 C864.12,783.88 866.12,782.99 868.12,782.07 C870.12,781.14 872.12,780.19 874.13,779.30 C876.13,778.42 878.13,777.58 880.13,776.76 C882.13,775.95 884.13,775.19 886.13,774.41 C888.13,773.63 890.13,772.83 892.13,772.07 C894.14,771.31 896.14,770.54 898.14,769.83 C900.14,769.12 902.14,768.49 904.14,767.84 C906.14,767.19 908.14,766.62 910.14,765.93 C912.14,765.24 914.14,764.45 916.15,763.71 C918.15,762.96 920.15,762.23 922.15,761.48 C924.15,760.72 926.15,759.97 928.15,759.17 C930.15,758.38 932.15,757.52 934.15,756.69 C936.16,755.86 938.16,755.06 940.16,754.20 C942.16,753.34 944.16,752.38 946.16,751.54 C948.16,750.69 950.16,749.84 952.16,749.14 C954.16,748.43 956.16,747.81 958.17,747.33 C960.17,746.86 962.17,746.62 964.17,746.27 C966.17,745.92 968.17,745.55 970.17,745.23 C972.17,744.90 974.17,744.96 976.17,744.32 C978.18,743.69 980.18,742.62 982.18,741.40 C984.18,740.18 986.18,738.63 988.18,736.98 C990.18,735.32 992.18,733.17 994.18,731.47 C996.18,729.76 998.18,728.19 1000.19,726.74 C1002.19,725.28 1004.19,724.16 1006.19,722.76 C1008.19,721.36 1010.19,719.89 1012.19,718.35 C1014.19,716.81 1016.19,715.16 1018.19,713.54 C1020.20,711.92 1022.20,710.38 1024.20,708.63 C1026.20,706.88 1028.20,704.88 1030.20,703.03 C1032.20,701.17 1034.20,699.29 1036.20,697.52 C1038.20,695.75 1040.20,694.05 1042.21,692.39 C1044.21,690.74 1046.21,689.11 1048.21,687.60 C1050.21,686.08 1052.21,684.69 1054.21,683.29 C1056.21,681.90 1058.21,680.74 1060.21,679.22 C1062.22,677.70 1064.22,675.93 1066.22,674.20 C1068.22,672.46 1070.22,670.36 1072.22,668.83 C1074.22,667.29 1076.22,666.09 1078.22,664.98 C1080.22,663.87 1082.22,662.70 1084.23,662.15 C1086.23,661.60 1088.23,661.86 1090.23,661.68 C1092.23,661.49 1094.23,661.34 1096.23,661.04 C1098.23,660.74 1100.23,660.37 1102.23,659.88 C1104.24,659.39 1106.24,658.90 1108.24,658.12 C1110.24,657.34 1112.24,656.16 1114.24,655.19 C1116.24,654.21 1118.24,653.19 1120.24,652.25 C1122.24,651.31 1124.24,650.46 1126.25,649.57 C1128.25,648.68 1130.25,647.78 1132.25,646.90 C1134.25,646.03 1136.25,645.12 1138.25,644.31 C1140.25,643.50 1142.25,642.79 1144.25,642.04 C1146.26,641.30 1148.26,640.52 1150.26,639.84 C1152.26,639.15 1154.26,638.56 1156.26,637.92 C1158.26,637.28 1160.26,636.67 1162.26,636.01 C1164.26,635.34 1166.26,634.64 1168.27,633.93 C1170.27,633.23 1172.27,632.51 1174.27,631.80 C1176.27,631.08 1178.27,630.46 1180.27,629.66 C1182.27,628.85 1184.27,627.88 1186.27,626.97 C1188.28,626.06 1190.28,625.12 1192.28,624.20 C1194.28,623.27 1196.28,622.34 1198.28,621.43 C1200.28,620.51 1202.28,619.59 1204.28,618.68 C1206.28,617.77 1208.28,616.87 1210.29,615.97 C1212.29,615.06 1214.29,614.15 1216.29,613.25 C1218.29,612.34 1220.29,611.44 1222.29,610.54 C1224.29,609.65 1226.29,608.77 1228.29,607.89 C1230.30,607.00 1232.30,606.12 1234.30,605.23 C1236.30,604.35 1239.30,603.02 1240.30,602.58" fill="none" stroke="#ec660c" stroke-width="5.10" stroke-linejoin="round" stroke-linecap="round" clip-path="url(#cd)"/>
<path d="M820.10,821.66 C821.10,821.04 824.10,819.09 826.10,817.90 C828.10,816.70 830.10,815.55 832.11,814.50 C834.11,813.45 836.11,812.57 838.11,811.60 C840.11,810.62 842.11,809.63 844.11,808.63 C846.11,807.64 848.11,806.63 850.11,805.63 C852.12,804.63 854.12,803.62 856.12,802.63 C858.12,801.64 860.12,800.64 862.12,799.68 C864.12,798.73 866.12,797.81 868.12,796.88 C870.12,795.94 872.12,794.96 874.13,794.08 C876.13,793.20 878.13,792.41 880.13,791.61 C882.13,790.81 884.13,790.07 886.13,789.30 C888.13,788.53 890.13,787.74 892.13,787.00 C894.14,786.26 896.14,785.52 898.14,784.85 C900.14,784.18 902.14,783.59 904.14,782.97 C906.14,782.36 908.14,781.84 910.14,781.16 C912.14,780.47 914.14,779.63 916.15,778.87 C918.15,778.10 920.15,777.35 922.15,776.57 C924.15,775.79 926.15,775.02 928.15,774.18 C930.15,773.33 932.15,772.40 934.15,771.51 C936.16,770.62 938.16,769.75 940.16,768.84 C942.16,767.92 944.16,766.89 946.16,766.02 C948.16,765.15 950.16,764.32 952.16,763.61 C954.16,762.90 956.16,762.25 958.17,761.77 C960.17,761.30 962.17,761.11 964.17,760.78 C966.17,760.45 968.17,760.10 970.17,759.81 C972.17,759.52 974.17,759.59 976.17,759.04 C978.18,758.50 980.18,757.71 982.18,756.55 C984.18,755.39 986.18,753.82 988.18,752.10 C990.18,750.37 992.18,747.99 994.18,746.21 C996.18,744.42 998.18,742.81 1000.19,741.37 C1002.19,739.93 1004.19,738.93 1006.19,737.56 C1008.19,736.19 1010.19,734.67 1012.19,733.16 C1014.19,731.64 1016.19,730.07 1018.19,728.49 C1020.20,726.91 1022.20,725.44 1024.20,723.68 C1026.20,721.92 1028.20,719.83 1030.20,717.94 C1032.20,716.06 1034.20,714.17 1036.20,712.38 C1038.20,710.58 1040.20,708.88 1042.21,707.17 C1044.21,705.45 1046.21,703.66 1048.21,702.10 C1050.21,700.53 1052.21,699.17 1054.21,697.79 C1056.21,696.42 1058.21,695.38 1060.21,693.83 C1062.22,692.29 1064.22,690.37 1066.22,688.51 C1068.22,686.66 1070.22,684.29 1072.22,682.71 C1074.22,681.13 1076.22,680.01 1078.22,679.02 C1080.22,678.03 1082.22,677.19 1084.23,676.77 C1086.23,676.34 1088.23,676.61 1090.23,676.46 C1092.23,676.30 1094.23,676.14 1096.23,675.84 C1098.23,675.55 1100.23,675.18 1102.23,674.70 C1104.24,674.21 1106.24,673.69 1108.24,672.91 C1110.24,672.13 1112.24,670.97 1114.24,670.00 C1116.24,669.03 1118.24,668.05 1120.24,667.09 C1122.24,666.12 1124.24,665.18 1126.25,664.23 C1128.25,663.28 1130.25,662.31 1132.25,661.38 C1134.25,660.45 1136.25,659.49 1138.25,658.65 C1140.25,657.81 1142.25,657.10 1144.25,656.33 C1146.26,655.57 1148.26,654.75 1150.26,654.07 C1152.26,653.39 1154.26,652.85 1156.26,652.24 C1158.26,651.63 1160.26,651.07 1162.26,650.43 C1164.26,649.80 1166.26,649.12 1168.27,648.44 C1170.27,647.76 1172.27,647.04 1174.27,646.35 C1176.27,645.65 1178.27,645.06 1180.27,644.25 C1182.27,643.45 1184.27,642.45 1186.27,641.53 C1188.28,640.61 1190.28,639.66 1192.28,638.72 C1194.28,637.78 1196.28,636.84 1198.28,635.91 C1200.28,634.98 1202.28,634.06 1204.28,633.15 C1206.28,632.23 1208.28,631.33 1210.29,630.43 C1212.29,629.52 1214.29,628.62 1216.29,627.71 C1218.29,626.81 1220.29,625.90 1222.29,625.00 C1224.29,624.11 1226.29,623.23 1228.29,622.34 C1230.30,621.45 1232.30,620.56 1234.30,619.68 C1236.30,618.79 1239.30,617.46 1240.30,617.01" fill="none" stroke="#b9771a" stroke-width="5.10" stroke-linejoin="round" stroke-linecap="round" clip-path="url(#cd)"/>
<path d="M820.10,837.05 C821.10,836.37 824.10,834.25 826.10,832.98 C828.10,831.70 830.10,830.47 832.11,829.39 C834.11,828.30 836.11,827.45 838.11,826.47 C840.11,825.49 842.11,824.49 844.11,823.49 C846.11,822.50 848.11,821.49 850.11,820.49 C852.12,819.49 854.12,818.48 856.12,817.49 C858.12,816.50 860.12,815.50 862.12,814.53 C864.12,813.57 866.12,812.64 868.12,811.69 C870.12,810.74 872.12,809.73 874.13,808.86 C876.13,807.98 878.13,807.24 880.13,806.46 C882.13,805.68 884.13,804.94 886.13,804.19 C888.13,803.43 890.13,802.65 892.13,801.93 C894.14,801.21 896.14,800.50 898.14,799.87 C900.14,799.23 902.14,798.69 904.14,798.11 C906.14,797.53 908.14,797.07 910.14,796.39 C912.14,795.71 914.14,794.81 916.15,794.03 C918.15,793.24 920.15,792.47 922.15,791.66 C924.15,790.85 926.15,790.07 928.15,789.18 C930.15,788.29 932.15,787.28 934.15,786.33 C936.16,785.38 938.16,784.45 940.16,783.48 C942.16,782.50 944.16,781.40 946.16,780.51 C948.16,779.61 950.16,778.80 952.16,778.08 C954.16,777.37 956.16,776.68 958.17,776.22 C960.17,775.75 962.17,775.59 964.17,775.28 C966.17,774.98 968.17,774.64 970.17,774.39 C972.17,774.13 974.17,774.21 976.17,773.76 C978.18,773.32 980.18,772.80 982.18,771.70 C984.18,770.61 986.18,769.01 988.18,767.21 C990.18,765.42 992.18,762.81 994.18,760.94 C996.18,759.08 998.18,757.44 1000.19,756.01 C1002.19,754.58 1004.19,753.70 1006.19,752.36 C1008.19,751.02 1010.19,749.45 1012.19,747.96 C1014.19,746.48 1016.19,744.98 1018.19,743.44 C1020.20,741.90 1022.20,740.50 1024.20,738.73 C1026.20,736.97 1028.20,734.78 1030.20,732.86 C1032.20,730.94 1034.20,729.06 1036.20,727.24 C1038.20,725.42 1040.20,723.72 1042.21,721.94 C1044.21,720.17 1046.21,718.20 1048.21,716.60 C1050.21,714.99 1052.21,713.65 1054.21,712.29 C1056.21,710.94 1058.21,710.03 1060.21,708.45 C1062.22,706.87 1064.22,704.80 1066.22,702.83 C1068.22,700.85 1070.22,698.23 1072.22,696.60 C1074.22,694.97 1076.22,693.93 1078.22,693.06 C1080.22,692.19 1082.22,691.69 1084.23,691.38 C1086.23,691.08 1088.23,691.36 1090.23,691.23 C1092.23,691.11 1094.23,690.93 1096.23,690.65 C1098.23,690.36 1100.23,690.00 1102.23,689.51 C1104.24,689.02 1106.24,688.49 1108.24,687.70 C1110.24,686.92 1112.24,685.78 1114.24,684.81 C1116.24,683.85 1118.24,682.91 1120.24,681.92 C1122.24,680.94 1124.24,679.91 1126.25,678.90 C1128.25,677.89 1130.25,676.85 1132.25,675.87 C1134.25,674.88 1136.25,673.86 1138.25,672.99 C1140.25,672.12 1142.25,671.41 1144.25,670.62 C1146.26,669.84 1148.26,668.98 1150.26,668.30 C1152.26,667.62 1154.26,667.13 1156.26,666.56 C1158.26,665.99 1160.26,665.46 1162.26,664.86 C1164.26,664.26 1166.26,663.60 1168.27,662.94 C1170.27,662.28 1172.27,661.58 1174.27,660.89 C1176.27,660.21 1178.27,659.65 1180.27,658.85 C1182.27,658.05 1184.27,657.03 1186.27,656.09 C1188.28,655.16 1190.28,654.19 1192.28,653.24 C1194.28,652.29 1196.28,651.33 1198.28,650.39 C1200.28,649.45 1202.28,648.53 1204.28,647.61 C1206.28,646.69 1208.28,645.80 1210.29,644.89 C1212.29,643.99 1214.29,643.08 1216.29,642.17 C1218.29,641.27 1220.29,640.36 1222.29,639.46 C1224.29,638.57 1226.29,637.68 1228.29,636.79 C1230.30,635.90 1232.30,635.01 1234.30,634.12 C1236.30,633.23 1239.30,631.90 1240.30,631.45" fill="none" stroke="#009216" stroke-width="5.10" stroke-linejoin="round" stroke-linecap="round" clip-path="url(#cd)"/>
<path d="M820.10,852.44 C821.10,851.71 824.10,849.42 826.10,848.06 C828.10,846.70 830.10,845.40 832.11,844.28 C834.11,843.16 836.11,842.32 838.11,841.34 C840.11,840.35 842.11,839.35 844.11,838.36 C846.11,837.36 848.11,836.36 850.11,835.36 C852.12,834.35 854.12,833.35 856.12,832.35 C858.12,831.36 860.12,830.36 862.12,829.39 C864.12,828.41 866.12,827.46 868.12,826.50 C870.12,825.54 872.12,824.50 874.13,823.63 C876.13,822.76 878.13,822.07 880.13,821.31 C882.13,820.55 884.13,819.82 886.13,819.08 C888.13,818.34 890.13,817.55 892.13,816.85 C894.14,816.16 896.14,815.49 898.14,814.89 C900.14,814.28 902.14,813.79 904.14,813.24 C906.14,812.70 908.14,812.29 910.14,811.61 C912.14,810.94 914.14,809.99 916.15,809.19 C918.15,808.38 920.15,807.59 922.15,806.76 C924.15,805.92 926.15,805.12 928.15,804.18 C930.15,803.25 932.15,802.16 934.15,801.15 C936.16,800.14 938.16,799.14 940.16,798.11 C942.16,797.09 944.16,795.91 946.16,794.99 C948.16,794.06 950.16,793.28 952.16,792.56 C954.16,791.83 956.16,791.12 958.17,790.66 C960.17,790.19 962.17,790.07 964.17,789.79 C966.17,789.51 968.17,789.18 970.17,788.96 C972.17,788.75 974.17,788.84 976.17,788.48 C978.18,788.13 980.18,787.88 982.18,786.86 C984.18,785.83 986.18,784.19 988.18,782.33 C990.18,780.47 992.18,777.63 994.18,775.68 C996.18,773.74 998.18,772.07 1000.19,770.65 C1002.19,769.23 1004.19,768.47 1006.19,767.16 C1008.19,765.84 1010.19,764.23 1012.19,762.77 C1014.19,761.31 1016.19,759.89 1018.19,758.40 C1020.20,756.90 1022.20,755.56 1024.20,753.79 C1026.20,752.02 1028.20,749.72 1030.20,747.78 C1032.20,745.83 1034.20,743.94 1036.20,742.09 C1038.20,740.25 1040.20,738.55 1042.21,736.72 C1044.21,734.88 1046.21,732.75 1048.21,731.10 C1050.21,729.44 1052.21,728.13 1054.21,726.79 C1056.21,725.46 1058.21,724.67 1060.21,723.06 C1062.22,721.45 1064.22,719.24 1066.22,717.14 C1068.22,715.05 1070.22,712.16 1072.22,710.48 C1074.22,708.81 1076.22,707.85 1078.22,707.10 C1080.22,706.35 1082.22,706.18 1084.23,706.00 C1086.23,705.82 1088.23,706.10 1090.23,706.01 C1092.23,705.92 1094.23,705.73 1096.23,705.45 C1098.23,705.17 1100.23,704.82 1102.23,704.32 C1104.24,703.83 1106.24,703.28 1108.24,702.49 C1110.24,701.71 1112.24,700.58 1114.24,699.63 C1116.24,698.67 1118.24,697.77 1120.24,696.76 C1122.24,695.75 1124.24,694.63 1126.25,693.56 C1128.25,692.49 1130.25,691.39 1132.25,690.35 C1134.25,689.31 1136.25,688.23 1138.25,687.33 C1140.25,686.42 1142.25,685.71 1144.25,684.91 C1146.26,684.12 1148.26,683.21 1150.26,682.53 C1152.26,681.86 1154.26,681.42 1156.26,680.88 C1158.26,680.34 1160.26,679.86 1162.26,679.28 C1164.26,678.71 1166.26,678.08 1168.27,677.44 C1170.27,676.80 1172.27,676.11 1174.27,675.44 C1176.27,674.78 1178.27,674.24 1180.27,673.44 C1182.27,672.65 1184.27,671.60 1186.27,670.66 C1188.28,669.71 1190.28,668.73 1192.28,667.76 C1194.28,666.80 1196.28,665.82 1198.28,664.87 C1200.28,663.92 1202.28,662.99 1204.28,662.07 C1206.28,661.15 1208.28,660.26 1210.29,659.35 C1212.29,658.45 1214.29,657.54 1216.29,656.64 C1218.29,655.73 1220.29,654.82 1222.29,653.93 C1224.29,653.03 1226.29,652.14 1228.29,651.25 C1230.30,650.35 1232.30,649.46 1234.30,648.57 C1236.30,647.67 1239.30,646.33 1240.30,645.89" fill="none" stroke="#0b6a47" stroke-width="5.10" stroke-linejoin="round" stroke-linecap="round" clip-path="url(#cd)"/>
<path d="M820.10,869.10 C820.75,868.33 822.52,865.77 824.00,864.50 C825.48,863.23 826.65,862.88 829.00,861.50 C831.35,860.12 835.59,857.59 838.11,856.21 C840.63,854.83 842.11,854.22 844.11,853.22 C846.11,852.22 848.11,851.22 850.11,850.22 C852.12,849.22 854.12,848.21 856.12,847.22 C858.12,846.22 860.12,845.22 862.12,844.24 C864.12,843.25 866.12,842.29 868.12,841.31 C870.12,840.34 872.12,839.27 874.13,838.41 C876.13,837.55 878.13,836.89 880.13,836.15 C882.13,835.41 884.13,834.70 886.13,833.97 C888.13,833.24 890.13,832.46 892.13,831.78 C894.14,831.11 896.14,830.47 898.14,829.91 C900.14,829.34 902.14,828.89 904.14,828.38 C906.14,827.86 908.14,827.51 910.14,826.84 C912.14,826.17 914.14,825.18 916.15,824.35 C918.15,823.51 920.15,822.71 922.15,821.85 C924.15,820.99 926.15,820.17 928.15,819.19 C930.15,818.21 932.15,817.04 934.15,815.97 C936.16,814.90 938.16,813.83 940.16,812.75 C942.16,811.67 944.16,810.43 946.16,809.47 C948.16,808.52 950.16,807.76 952.16,807.03 C954.16,806.30 956.16,805.55 958.17,805.10 C960.17,804.64 962.17,804.55 964.17,804.29 C966.17,804.03 968.17,803.72 970.17,803.54 C972.17,803.36 974.17,803.46 976.17,803.21 C978.18,802.95 980.18,802.97 982.18,802.01 C984.18,801.05 986.18,799.38 988.18,797.45 C990.18,795.52 992.18,792.45 994.18,790.42 C996.18,788.39 998.18,786.69 1000.19,785.28 C1002.19,783.87 1004.19,783.24 1006.19,781.96 C1008.19,780.67 1010.19,779.01 1012.19,777.57 C1014.19,776.14 1016.19,774.80 1018.19,773.35 C1020.20,771.89 1022.20,770.61 1024.20,768.84 C1026.20,767.06 1028.20,764.67 1030.20,762.69 C1032.20,760.71 1034.20,758.82 1036.20,756.95 C1038.20,755.08 1040.20,753.38 1042.21,751.49 C1044.21,749.60 1046.21,747.30 1048.21,745.60 C1050.21,743.90 1052.21,742.61 1054.21,741.29 C1056.21,739.97 1058.21,739.31 1060.21,737.68 C1062.22,736.04 1064.22,733.68 1066.22,731.46 C1068.22,729.24 1070.22,726.09 1072.22,724.37 C1074.22,722.65 1076.22,721.77 1078.22,721.14 C1080.22,720.52 1082.22,720.68 1084.23,720.62 C1086.23,720.56 1088.23,720.85 1090.23,720.79 C1092.23,720.73 1094.23,720.53 1096.23,720.25 C1098.23,719.98 1100.23,719.63 1102.23,719.14 C1104.24,718.64 1106.24,718.07 1108.24,717.29 C1110.24,716.50 1112.24,715.39 1114.24,714.44 C1116.24,713.49 1118.24,712.63 1120.24,711.59 C1122.24,710.56 1124.24,709.36 1126.25,708.23 C1128.25,707.10 1130.25,705.92 1132.25,704.83 C1134.25,703.73 1136.25,702.60 1138.25,701.66 C1140.25,700.73 1142.25,700.02 1144.25,699.20 C1146.26,698.39 1148.26,697.43 1150.26,696.77 C1152.26,696.10 1154.26,695.71 1156.26,695.20 C1158.26,694.69 1160.26,694.25 1162.26,693.71 C1164.26,693.17 1166.26,692.57 1168.27,691.95 C1170.27,691.33 1172.27,690.64 1174.27,689.99 C1176.27,689.34 1178.27,688.83 1180.27,688.04 C1182.27,687.24 1184.27,686.18 1186.27,685.22 C1188.28,684.26 1190.28,683.27 1192.28,682.29 C1194.28,681.31 1196.28,680.31 1198.28,679.35 C1200.28,678.39 1202.28,677.46 1204.28,676.53 C1206.28,675.61 1208.28,674.72 1210.29,673.82 C1212.29,672.91 1214.29,672.00 1216.29,671.10 C1218.29,670.19 1219.67,669.74 1222.29,668.39 C1224.91,667.04 1229.55,664.65 1232.00,663.00 C1234.45,661.35 1235.62,659.90 1237.00,658.50 C1238.38,657.10 1239.75,655.25 1240.30,654.60" fill="none" stroke="#1070a6" stroke-width="5.10" stroke-linejoin="round" stroke-linecap="round" clip-path="url(#cd)"/>
<path d="M820.10,883.21 C821.10,882.38 824.10,879.74 826.10,878.21 C828.10,876.69 830.10,875.25 832.11,874.06 C834.11,872.87 836.11,872.07 838.11,871.08 C840.11,870.08 842.11,869.08 844.11,868.08 C846.11,867.08 848.11,866.08 850.11,865.08 C852.12,864.08 854.12,863.08 856.12,862.08 C858.12,861.08 860.12,860.08 862.12,859.09 C864.12,858.10 866.12,857.11 868.12,856.13 C870.12,855.14 872.12,854.03 874.13,853.18 C876.13,852.33 878.13,851.72 880.13,851.00 C882.13,850.28 884.13,849.57 886.13,848.86 C888.13,848.14 890.13,847.37 892.13,846.71 C894.14,846.06 896.14,845.46 898.14,844.92 C900.14,844.39 902.14,843.99 904.14,843.51 C906.14,843.03 908.14,842.73 910.14,842.07 C912.14,841.40 914.14,840.36 916.15,839.51 C918.15,838.65 920.15,837.83 922.15,836.94 C924.15,836.06 926.15,835.22 928.15,834.19 C930.15,833.16 932.15,831.92 934.15,830.79 C936.16,829.65 938.16,828.53 940.16,827.39 C942.16,826.25 944.16,824.94 946.16,823.96 C948.16,822.98 950.16,822.24 952.16,821.51 C954.16,820.77 956.16,819.99 958.17,819.54 C960.17,819.09 962.17,819.03 964.17,818.80 C966.17,818.56 968.17,818.27 970.17,818.12 C972.17,817.97 974.17,818.09 976.17,817.93 C978.18,817.77 980.18,818.05 982.18,817.16 C984.18,816.27 986.18,814.56 988.18,812.56 C990.18,810.56 992.18,807.27 994.18,805.16 C996.18,803.05 998.18,801.32 1000.19,799.92 C1002.19,798.52 1004.19,798.01 1006.19,796.76 C1008.19,795.50 1010.19,793.79 1012.19,792.38 C1014.19,790.97 1016.19,789.71 1018.19,788.30 C1020.20,786.89 1022.20,785.67 1024.20,783.89 C1026.20,782.11 1028.20,779.62 1030.20,777.61 C1032.20,775.59 1034.20,773.70 1036.20,771.81 C1038.20,769.92 1040.20,768.22 1042.21,766.27 C1044.21,764.32 1046.21,761.84 1048.21,760.10 C1050.21,758.35 1052.21,757.10 1054.21,755.79 C1056.21,754.49 1058.21,753.96 1060.21,752.29 C1062.22,750.62 1064.22,748.12 1066.22,745.78 C1068.22,743.44 1070.22,740.02 1072.22,738.25 C1074.22,736.48 1076.22,735.69 1078.22,735.18 C1080.22,734.68 1082.22,735.17 1084.23,735.23 C1086.23,735.30 1088.23,735.59 1090.23,735.56 C1092.23,735.54 1094.23,735.33 1096.23,735.06 C1098.23,734.79 1100.23,734.45 1102.23,733.95 C1104.24,733.45 1106.24,732.86 1108.24,732.08 C1110.24,731.30 1112.24,730.20 1114.24,729.25 C1116.24,728.31 1118.24,727.49 1120.24,726.43 C1122.24,725.37 1124.24,724.08 1126.25,722.89 C1128.25,721.71 1130.25,720.46 1132.25,719.31 C1134.25,718.16 1136.25,716.97 1138.25,716.00 C1140.25,715.03 1142.25,714.33 1144.25,713.50 C1146.26,712.66 1148.26,711.66 1150.26,711.00 C1152.26,710.34 1154.26,710.00 1156.26,709.52 C1158.26,709.04 1160.26,708.65 1162.26,708.14 C1164.26,707.62 1166.26,707.05 1168.27,706.45 C1170.27,705.85 1172.27,705.18 1174.27,704.54 C1176.27,703.91 1178.27,703.42 1180.27,702.63 C1182.27,701.84 1184.27,700.76 1186.27,699.79 C1188.28,698.82 1190.28,697.80 1192.28,696.81 C1194.28,695.82 1196.28,694.80 1198.28,693.84 C1200.28,692.87 1202.28,691.92 1204.28,691.00 C1206.28,690.07 1208.28,689.18 1210.29,688.28 C1212.29,687.37 1214.29,686.47 1216.29,685.56 C1218.29,684.66 1220.29,683.75 1222.29,682.85 C1224.29,681.95 1226.29,681.05 1228.29,680.15 C1230.30,679.25 1232.30,678.36 1234.30,677.46 C1236.30,676.56 1239.30,675.21 1240.30,674.76" fill="none" stroke="#2b61b1" stroke-width="5.10" stroke-linejoin="round" stroke-linecap="round" clip-path="url(#cd)"/>
<path d="M820.10,898.60 C820.92,897.67 823.00,894.61 825.00,893.00 C827.00,891.39 829.92,890.12 832.11,888.95 C834.29,887.77 836.11,886.95 838.11,885.95 C840.11,884.95 842.11,883.94 844.11,882.94 C846.11,881.94 848.11,880.94 850.11,879.94 C852.12,878.94 854.12,877.94 856.12,876.94 C858.12,875.94 860.12,874.94 862.12,873.94 C864.12,872.94 866.12,871.94 868.12,870.94 C870.12,869.94 872.12,868.80 874.13,867.96 C876.13,867.11 878.13,866.55 880.13,865.85 C882.13,865.15 884.13,864.45 886.13,863.75 C888.13,863.04 890.13,862.27 892.13,861.64 C894.14,861.01 896.14,860.44 898.14,859.94 C900.14,859.44 902.14,859.09 904.14,858.65 C906.14,858.20 908.14,857.96 910.14,857.29 C912.14,856.63 914.14,855.54 916.15,854.67 C918.15,853.79 920.15,852.95 922.15,852.04 C924.15,851.12 926.15,850.26 928.15,849.19 C930.15,848.12 932.15,846.80 934.15,845.61 C936.16,844.41 938.16,843.22 940.16,842.02 C942.16,840.83 944.16,839.45 946.16,838.44 C948.16,837.43 950.16,836.72 952.16,835.98 C954.16,835.24 956.16,834.42 958.17,833.98 C960.17,833.53 962.17,833.52 964.17,833.30 C966.17,833.09 968.17,832.81 970.17,832.70 C972.17,832.59 974.17,832.71 976.17,832.65 C978.18,832.58 980.18,833.14 982.18,832.31 C984.18,831.49 986.18,829.75 988.18,827.68 C990.18,825.61 992.18,822.09 994.18,819.90 C996.18,817.71 998.18,815.95 1000.19,814.56 C1002.19,813.17 1004.19,812.78 1006.19,811.56 C1008.19,810.33 1010.19,808.57 1012.19,807.18 C1014.19,805.80 1016.19,804.63 1018.19,803.25 C1020.20,801.88 1022.20,800.73 1024.20,798.94 C1026.20,797.16 1028.20,794.57 1030.20,792.52 C1032.20,790.48 1034.20,788.58 1036.20,786.66 C1038.20,784.75 1040.20,783.05 1042.21,781.04 C1044.21,779.03 1046.21,776.39 1048.21,774.60 C1050.21,772.81 1052.21,771.58 1054.21,770.29 C1056.21,769.01 1058.21,768.60 1060.21,766.90 C1062.22,765.20 1064.22,762.56 1066.22,760.09 C1068.22,757.63 1070.22,753.95 1072.22,752.13 C1074.22,750.32 1076.22,749.60 1078.22,749.22 C1080.22,748.84 1082.22,749.66 1084.23,749.85 C1086.23,750.04 1088.23,750.34 1090.23,750.34 C1092.23,750.34 1094.23,750.12 1096.23,749.86 C1098.23,749.60 1100.23,749.26 1102.23,748.77 C1104.24,748.27 1106.24,747.65 1108.24,746.87 C1110.24,746.09 1112.24,745.00 1114.24,744.07 C1116.24,743.13 1118.24,742.35 1120.24,741.27 C1122.24,740.18 1124.24,738.80 1126.25,737.56 C1128.25,736.31 1130.25,735.00 1132.25,733.79 C1134.25,732.59 1136.25,731.34 1138.25,730.34 C1140.25,729.34 1142.25,728.64 1144.25,727.79 C1146.26,726.93 1148.26,725.89 1150.26,725.23 C1152.26,724.57 1154.26,724.28 1156.26,723.84 C1158.26,723.39 1160.26,723.04 1162.26,722.56 C1164.26,722.08 1166.26,721.53 1168.27,720.95 C1170.27,720.38 1172.27,719.71 1174.27,719.09 C1176.27,718.47 1178.27,718.02 1180.27,717.23 C1182.27,716.44 1184.27,715.33 1186.27,714.35 C1188.28,713.37 1190.28,712.34 1192.28,711.33 C1194.28,710.33 1196.28,709.30 1198.28,708.32 C1200.28,707.34 1202.28,706.39 1204.28,705.46 C1206.28,704.53 1208.28,703.65 1210.29,702.74 C1212.29,701.84 1214.29,700.93 1216.29,700.02 C1218.29,699.12 1220.29,698.21 1222.29,697.31 C1224.29,696.41 1226.29,695.51 1228.29,694.61 C1230.30,693.70 1232.30,692.80 1234.30,691.90 C1236.30,691.00 1239.30,689.65 1240.30,689.20" fill="none" stroke="#282888" stroke-width="5.10" stroke-linejoin="round" stroke-linecap="round" clip-path="url(#cd)"/>
<line x1="797.60" y1="559.00" x2="797.60" y2="908.40" stroke="#000" stroke-width="2.40" stroke-linecap="butt" />
<line x1="1262.50" y1="557.80" x2="1262.50" y2="908.40" stroke="#000" stroke-width="2.40" stroke-linecap="butt" />
<line x1="796.40" y1="559.00" x2="1263.70" y2="559.00" stroke="#000" stroke-width="2.40" stroke-linecap="butt" />
<line x1="796.40" y1="907.20" x2="1263.70" y2="907.20" stroke="#000" stroke-width="2.40" stroke-linecap="butt" />
<line x1="797.60" y1="907.20" x2="810.10" y2="907.20" stroke="#000" stroke-width="2.20" stroke-linecap="butt" />
<line x1="797.60" y1="820.15" x2="810.10" y2="820.15" stroke="#000" stroke-width="2.20" stroke-linecap="butt" />
<line x1="797.60" y1="733.10" x2="810.10" y2="733.10" stroke="#000" stroke-width="2.20" stroke-linecap="butt" />
<line x1="797.60" y1="646.05" x2="810.10" y2="646.05" stroke="#000" stroke-width="2.20" stroke-linecap="butt" />
<line x1="797.60" y1="559.00" x2="810.10" y2="559.00" stroke="#000" stroke-width="2.20" stroke-linecap="butt" />
<line x1="797.60" y1="863.68" x2="804.10" y2="863.68" stroke="#000" stroke-width="2.20" stroke-linecap="butt" />
<line x1="797.60" y1="776.63" x2="804.10" y2="776.63" stroke="#000" stroke-width="2.20" stroke-linecap="butt" />
<line x1="797.60" y1="689.57" x2="804.10" y2="689.57" stroke="#000" stroke-width="2.20" stroke-linecap="butt" />
<line x1="797.60" y1="602.52" x2="804.10" y2="602.52" stroke="#000" stroke-width="2.20" stroke-linecap="butt" />
<line x1="797.60" y1="907.20" x2="797.60" y2="894.70" stroke="#000" stroke-width="2.20" stroke-linecap="butt" />
<line x1="913.83" y1="907.20" x2="913.83" y2="894.70" stroke="#000" stroke-width="2.20" stroke-linecap="butt" />
<line x1="1030.05" y1="907.20" x2="1030.05" y2="894.70" stroke="#000" stroke-width="2.20" stroke-linecap="butt" />
<line x1="1146.28" y1="907.20" x2="1146.28" y2="894.70" stroke="#000" stroke-width="2.20" stroke-linecap="butt" />
<line x1="1262.50" y1="907.20" x2="1262.50" y2="894.70" stroke="#000" stroke-width="2.20" stroke-linecap="butt" />
<line x1="855.71" y1="907.20" x2="855.71" y2="900.70" stroke="#000" stroke-width="2.20" stroke-linecap="butt" />
<line x1="971.94" y1="907.20" x2="971.94" y2="900.70" stroke="#000" stroke-width="2.20" stroke-linecap="butt" />
<line x1="1088.16" y1="907.20" x2="1088.16" y2="900.70" stroke="#000" stroke-width="2.20" stroke-linecap="butt" />
<line x1="1204.39" y1="907.20" x2="1204.39" y2="900.70" stroke="#000" stroke-width="2.20" stroke-linecap="butt" />
<text x="752.34" y="568.60" font-size="29.50" fill="#000" font-weight="normal" font-style="normal" >60</text>
<text x="752.34" y="655.90" font-size="29.50" fill="#000" font-weight="normal" font-style="normal" >30</text>
<text x="768.75" y="742.50" font-size="29.50" fill="#000" font-weight="normal" font-style="normal" >0</text>
<text x="735.11" y="830.20" font-size="29.50" fill="#000" font-weight="normal" font-style="normal" >−30</text>
<text x="735.11" y="917.60" font-size="29.50" fill="#000" font-weight="normal" font-style="normal" >−60</text>
<text x="772.33" y="942.70" font-size="29.50" fill="#000" font-weight="normal" font-style="normal" >−10</text>
<text x="896.47" y="942.70" font-size="29.50" fill="#000" font-weight="normal" font-style="normal" >−5</text>
<text x="1022.20" y="942.70" font-size="29.50" fill="#000" font-weight="normal" font-style="normal" >0</text>
<text x="1138.23" y="942.70" font-size="29.50" fill="#000" font-weight="normal" font-style="normal" >5</text>
<text x="1246.20" y="942.70" font-size="29.50" fill="#000" font-weight="normal" font-style="normal" >10</text>
<text x="999.20" y="982.10" font-size="30.00" fill="#000" ><tspan font-style="italic">B</tspan><tspan dx="-2"> (T)</tspan></text>
<text transform="translate(703.9,809.4) rotate(-90)" font-size="28.6" fill="#000"><tspan font-style="italic">ρ</tspan><tspan font-size="21" dy="5">xy</tspan><tspan dy="-5"> (mΩ cm)</tspan></text>
<line x1="826.30" y1="640.20" x2="865.20" y2="640.20" stroke="#880000" stroke-width="4.40" stroke-linecap="round" />
<text x="878.93" y="648.30" font-size="25.00" fill="#000" font-weight="normal" font-style="normal" >4 K</text>
<line x1="956.10" y1="640.20" x2="995.00" y2="640.20" stroke="#cd2d2d" stroke-width="4.40" stroke-linecap="round" />
<text x="1006.94" y="648.30" font-size="25.00" fill="#000" font-weight="normal" font-style="normal" >2 K</text>
<line x1="826.30" y1="678.50" x2="865.20" y2="678.50" stroke="#ec660c" stroke-width="4.40" stroke-linecap="round" />
<text x="878.60" y="686.90" font-size="25.00" fill="#000" font-weight="normal" font-style="normal" >1.5 K</text>
<line x1="1117.00" y1="763.70" x2="1155.20" y2="763.70" stroke="#009216" stroke-width="4.40" stroke-linecap="round" />
<text x="1170.22" y="771.10" font-size="25.00" fill="#000" font-weight="normal" font-style="normal" >0.4 K</text>
<line x1="1117.00" y1="802.10" x2="1155.20" y2="802.10" stroke="#0b6a47" stroke-width="4.40" stroke-linecap="round" />
<text x="1170.22" y="809.50" font-size="25.00" fill="#000" font-weight="normal" font-style="normal" >0.2 K</text>
<line x1="1117.00" y1="840.80" x2="1155.20" y2="840.80" stroke="#1070a6" stroke-width="4.40" stroke-linecap="round" />
<text x="1170.22" y="848.10" font-size="25.00" fill="#000" font-weight="normal" font-style="normal" >0.1 K</text>
<line x1="954.90" y1="878.70" x2="993.00" y2="878.70" stroke="#2b61b1" stroke-width="4.40" stroke-linecap="round" />
<text x="1005.42" y="886.10" font-size="25.00" fill="#000" font-weight="normal" font-style="normal" >75 mK</text>
<line x1="1117.00" y1="878.70" x2="1155.20" y2="878.70" stroke="#282888" stroke-width="4.40" stroke-linecap="round" />
<text x="1169.00" y="886.10" font-size="25.00" fill="#000" font-weight="normal" font-style="normal" >50 mK</text>
<text x="824.34" y="600.90" font-size="26.00" fill="#000" font-weight="bold" font-style="italic" >B</text>
<line x1="851.10" y1="582.40" x2="851.10" y2="600.90" stroke="#000" stroke-width="2.00" stroke-linecap="butt" />
<line x1="857.50" y1="582.40" x2="857.50" y2="600.90" stroke="#000" stroke-width="2.00" stroke-linecap="butt" />
<text x="868.95" y="600.90" font-size="25.00" fill="#000" font-weight="normal" font-style="italic" >z</text>
</svg></body></html>
